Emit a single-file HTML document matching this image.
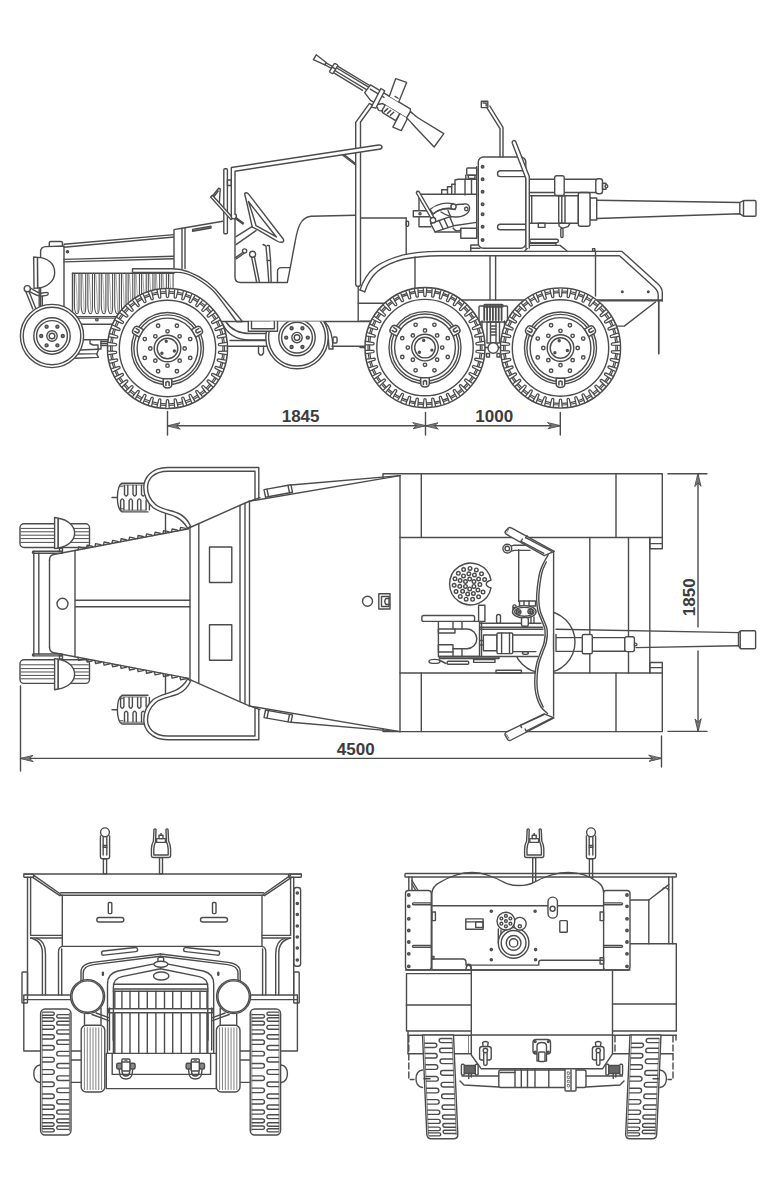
<!DOCTYPE html>
<html><head><meta charset="utf-8"><title>Blueprint</title>
<style>
html,body{margin:0;padding:0;background:#fff;}
svg{display:block}
.t{font-family:"Liberation Sans",sans-serif;font-weight:bold;fill:#3c3c3c;stroke:none}
</style></head><body>
<svg width="768" height="1199" viewBox="0 0 768 1199">
<rect x="0" y="0" width="768" height="1199" fill="#fff"/>
<g fill="none" stroke="#4c4c4c" stroke-width="1.4" stroke-linecap="round" stroke-linejoin="round">
<line x1="72.50" y1="316.80" x2="125.00" y2="316.80" stroke-width="1.6"/>
<line x1="72.50" y1="318.40" x2="125.00" y2="318.40" stroke-width="0.8"/>
<circle cx="96.90" cy="319.70" r="1.20" fill="#fff"/>
<line x1="78.00" y1="324.20" x2="118.00" y2="324.20"/>
<line x1="80.00" y1="339.70" x2="110.00" y2="339.70"/>
<polyline points="90.00,340.00 90.00,343.50 93.00,345.00 98.00,345.00 98.00,349.00 101.00,349.00 101.00,341.00"/>
<line x1="101.00" y1="341.50" x2="108.00" y2="341.50"/>
<line x1="101.00" y1="343.50" x2="108.00" y2="343.50"/>
<line x1="101.00" y1="345.50" x2="108.00" y2="345.50"/>
<polyline points="80.00,350.00 98.00,349.30"/>
<polyline points="77.00,354.00 97.00,353.60 98.50,349.50"/>
<polyline points="75.00,358.20 98.50,357.40 96.50,353.80"/>
<line x1="222.00" y1="321.50" x2="375.00" y2="321.50"/>
<line x1="225.00" y1="346.30" x2="268.00" y2="346.30"/>
<line x1="332.00" y1="346.30" x2="366.00" y2="346.30"/>
<path d="M222.5,323.5 C228,336 238,340 250,340 L268,340"/>
<path d="M226,322 C232,331 240,333.5 250,333.5 L270,333.5"/>
<polyline points="258.50,346.30 258.50,353.00 260.00,355.00 262.00,355.00 263.50,353.00 263.50,346.30"/>
<line x1="230.00" y1="340.50" x2="268.00" y2="340.50"/>
<path d="M321,322 C327,328 329,338 329,349 L333,349 C333,338 331,328 325,322"/>
<rect x="333.00" y="337.00" width="4.00" height="6.00" rx="1"/>
<line x1="360.00" y1="321.30" x2="372.00" y2="321.30"/>
<line x1="360.00" y1="347.50" x2="366.00" y2="347.50"/>
<line x1="462.00" y1="300.00" x2="662.00" y2="300.00"/>
<path d="M40.6,307 L40.6,251.5 Q40.6,246.8 46,246.6 L64,246 L64,316" fill="#fff"/>
<path d="M49.3,246.4 L49.3,242.8 Q49.3,241.5 50.6,241.5 L61,241.5 Q62.4,241.5 62.4,242.8 L62.4,246"/>
<path d="M37.4,257.4 C48,257.6 54.7,264 54.7,272.4 C54.7,281 47,287.6 37.6,288 Z" fill="#fff"/>
<path d="M33.7,257 L37.4,257.4 L37.6,288 L34,288.4 Z" fill="#fff"/>
<path d="M26,292 L32.8,309 M29,291.5 L35.6,308"/>
<path d="M29.5,287.5 C34,290 38,293 41,293.2 L46.6,292.4 Q48.4,292.4 48.2,294 Q48,295.4 46.6,295.4 L41,296.2 C37,296.2 32,293 28.5,291"/>
<circle cx="27.30" cy="288.70" r="3.10" fill="#fff"/>
<line x1="39.20" y1="288.50" x2="39.20" y2="306.00"/>
<line x1="42.30" y1="296.20" x2="42.30" y2="305.50"/>
<line x1="64.00" y1="244.30" x2="174.00" y2="234.60"/>
<line x1="64.00" y1="247.20" x2="174.00" y2="237.00"/>
<line x1="64.00" y1="259.40" x2="174.00" y2="256.30"/>
<line x1="64.00" y1="261.90" x2="174.00" y2="258.80"/>
<circle cx="67.50" cy="251.80" r="1.10" fill="#777"/>
<line x1="72.50" y1="273.30" x2="174.00" y2="273.30"/>
<line x1="72.50" y1="273.30" x2="72.50" y2="316.80"/>
<path d="M74.40,273.5 L74.40,305 Q74.60,313.8 77.20,313.8 Q79.00,313.8 79.00,307 L79.00,273.5" stroke-width="1.05"/>
<path d="M75.70,274.5 Q77.00,295 77.40,312" stroke-width="0.5"/>
<path d="M81.12,273.5 L81.12,305 Q81.32,313.8 83.92,313.8 Q85.72,313.8 85.72,307 L85.72,273.5" stroke-width="1.05"/>
<path d="M82.42,274.5 Q83.72,295 84.12,312" stroke-width="0.5"/>
<path d="M87.84,273.5 L87.84,305 Q88.04,313.8 90.64,313.8 Q92.44,313.8 92.44,307 L92.44,273.5" stroke-width="1.05"/>
<path d="M89.14,274.5 Q90.44,295 90.84,312" stroke-width="0.5"/>
<path d="M94.56,273.5 L94.56,305 Q94.76,313.8 97.36,313.8 Q99.16,313.8 99.16,307 L99.16,273.5" stroke-width="1.05"/>
<path d="M95.86,274.5 Q97.16,295 97.56,312" stroke-width="0.5"/>
<path d="M101.28,273.5 L101.28,305 Q101.48,313.8 104.08,313.8 Q105.88,313.8 105.88,307 L105.88,273.5" stroke-width="1.05"/>
<path d="M102.58,274.5 Q103.88,295 104.28,312" stroke-width="0.5"/>
<path d="M108.00,273.5 L108.00,305 Q108.20,313.8 110.80,313.8 Q112.60,313.8 112.60,307 L112.60,273.5" stroke-width="1.05"/>
<path d="M109.30,274.5 Q110.60,295 111.00,312" stroke-width="0.5"/>
<path d="M114.72,273.5 L114.72,305 Q114.92,313.8 117.52,313.8 Q119.32,313.8 119.32,307 L119.32,273.5" stroke-width="1.05"/>
<path d="M116.02,274.5 Q117.32,295 117.72,312" stroke-width="0.5"/>
<path d="M121.44,273.5 L121.44,305 Q121.64,313.8 124.24,313.8 Q126.04,313.8 126.04,307 L126.04,273.5" stroke-width="1.05"/>
<path d="M122.74,274.5 Q124.04,295 124.44,312" stroke-width="0.5"/>
<path d="M128.16,273.5 L128.16,305 Q128.36,313.8 130.96,313.8 Q132.76,313.8 132.76,307 L132.76,273.5" stroke-width="1.05"/>
<path d="M129.46,274.5 Q130.76,295 131.16,312" stroke-width="0.5"/>
<path d="M134.88,273.5 L134.88,305 Q135.08,313.8 137.68,313.8 Q139.48,313.8 139.48,307 L139.48,273.5" stroke-width="1.05"/>
<path d="M136.18,274.5 Q137.48,295 137.88,312" stroke-width="0.5"/>
<path d="M141.60,273.5 L141.60,305 Q141.80,313.8 144.40,313.8 Q146.20,313.8 146.20,307 L146.20,273.5" stroke-width="1.05"/>
<path d="M142.90,274.5 Q144.20,295 144.60,312" stroke-width="0.5"/>
<path d="M148.32,273.5 L148.32,305 Q148.52,313.8 151.12,313.8 Q152.92,313.8 152.92,307 L152.92,273.5" stroke-width="1.05"/>
<path d="M149.62,274.5 Q150.92,295 151.32,312" stroke-width="0.5"/>
<path d="M155.04,273.5 L155.04,305 Q155.24,313.8 157.84,313.8 Q159.64,313.8 159.64,307 L159.64,273.5" stroke-width="1.05"/>
<path d="M156.34,274.5 Q157.64,295 158.04,312" stroke-width="0.5"/>
<path d="M161.76,273.5 L161.76,305 Q161.96,313.8 164.56,313.8 Q166.36,313.8 166.36,307 L166.36,273.5" stroke-width="1.05"/>
<path d="M163.06,274.5 Q164.36,295 164.76,312" stroke-width="0.5"/>
<path d="M168.48,273.5 L168.48,305 Q168.68,313.8 171.28,313.8 Q173.08,313.8 173.08,307 L173.08,273.5" stroke-width="1.05"/>
<path d="M169.78,274.5 Q171.08,295 171.48,312" stroke-width="0.5"/>
<polyline points="174.00,268.50 174.00,229.60 182.00,228.20 182.00,268.50" fill="#fff"/>
<line x1="185.00" y1="227.80" x2="185.00" y2="268.50"/>
<line x1="182.00" y1="228.30" x2="222.80" y2="221.20"/>
<polygon points="192.60,231.20 211.00,228.00 211.00,226.20 192.60,229.40" fill="#999"/>
<path d="M235,219 L235,277 Q235,282.5 240.5,282.5 L287.3,282.5 C290,270 292.5,255 295,242.5 C297.5,228 300.5,217.2 311,216.3 L355.5,215.2"/>
<path d="M277.5,282.5 L277.5,271.5 Q277.5,267.6 281.5,267.6 L290.5,267.6"/>
<line x1="360.50" y1="218.00" x2="406.20" y2="218.00"/>
<line x1="406.20" y1="218.00" x2="406.20" y2="254.30"/>
<rect x="406.20" y="221.30" width="2.40" height="5.00" rx="1"/>
<rect x="223.80" y="168.80" width="3.60" height="65.00" rx="1" fill="#fff"/>
<rect x="227.40" y="180.00" width="3.90" height="5.50"/>
<polyline points="211.40,197.50 218.60,188.20 220.20,188.60 219.20,206.00"/>
<polyline points="213.60,197.00 218.20,191.00"/>
<polygon points="210.60,197.00 231.00,219.60 233.00,218.00 212.40,195.20" fill="#fff"/>
<circle cx="233.80" cy="216.30" r="2.60" fill="#fff"/>
<polygon points="236.00,217.60 243.50,223.00 242.80,224.00 235.40,218.80" fill="#999"/>
<path d="M244.9,195 Q244.2,192.6 246.4,192.8 Q248,193 249,194.6 L283.4,239.2 Q284.4,241.6 282,242.2 Q279.5,242.6 277,241 C270,237 262,232 255.5,228.6 L252.3,227.2 C250.5,220 248,207 244.9,195 Z" fill="#fff"/>
<path d="M248.4,201.5 L276.4,237 C268,232 261,228.5 256,225.6 C253.8,218 251,209 248.4,201.5 Z"/>
<polyline points="252.00,226.60 236.00,236.60"/>
<polyline points="256.00,230.60 236.00,244.60"/>
<circle cx="244.60" cy="251.00" r="2.10" fill="#fff"/>
<polyline points="243.00,252.30 235.50,257.60"/>
<polyline points="244.20,253.20 236.50,258.80"/>
<circle cx="252.60" cy="254.30" r="3.00" fill="#fff"/>
<polyline points="251.60,257.20 256.60,282.00"/>
<polyline points="254.40,256.80 259.40,282.00"/>
<polyline points="263.00,244.50 266.00,246.00 267.20,260.00 268.80,282.00"/>
<polyline points="267.50,245.50 269.30,245.50 270.50,260.00 271.20,282.00"/>
<line x1="267.20" y1="260.50" x2="270.50" y2="260.50"/>
<path d="M355.7,284 L355.7,122.4 L369.4,103.4 L372.6,105.4 L360.5,122 L360.5,284 Q360.5,286.4 358.1,286.4 Q355.7,286.4 355.7,284 Z" fill="#fff"/>
<polyline points="342.50,155.00 355.50,165.00"/>
<polyline points="344.00,154.60 355.50,163.60"/>
<path d="M231.3,216 L231.3,167.5 L378.5,145.0 Q381.8,144.8 382,146.9 Q382,149 379,149.2 L235,171.2 L235,214" fill="#fff"/>
<line x1="358.20" y1="286.40" x2="358.20" y2="321.50"/>
<line x1="358.20" y1="303.20" x2="388.00" y2="303.20"/>
<path d="M360,290 C363,281 368,273 374,268 C382,261.5 392,258 402.4,255.1 C412,252.8 424,251.6 440,251.4 L622,251.4 L657.5,283.5 Q662.3,287.6 662.3,293 L662.3,301" fill="none"/>
<path d="M364.8,291.8 C367.5,283.5 372,276 378,271 C385,265.5 394,261.5 404,259 C414,257 426,255.8 440,255.7 L619.5,255.7 L654,287 Q658.2,291 658.2,295 L658.2,301"/>
<line x1="360.00" y1="290.00" x2="364.80" y2="291.80"/>
<line x1="415.00" y1="257.00" x2="415.00" y2="290.00"/>
<line x1="490.00" y1="255.60" x2="490.00" y2="300.00"/>
<line x1="495.60" y1="255.60" x2="495.60" y2="300.00"/>
<line x1="595.50" y1="251.30" x2="595.50" y2="296.00"/>
<rect x="592.60" y="248.60" width="2.20" height="2.70"/>
<circle cx="622.30" cy="291.80" r="0.80" fill="#666"/>
<circle cx="648.30" cy="291.80" r="0.80" fill="#666"/>
<line x1="600.00" y1="300.80" x2="662.30" y2="300.80"/>
<polyline points="655.50,302.00 624.30,326.10 617.00,326.10"/>
<line x1="658.80" y1="301.00" x2="658.80" y2="353.60" stroke-width="1.7"/>
<rect x="479.00" y="306.00" width="28.50" height="16.00" rx="1"/>
<line x1="484.20" y1="306.00" x2="484.20" y2="320.00" stroke-width="1.8"/>
<line x1="487.10" y1="306.00" x2="487.10" y2="320.00" stroke-width="1.8"/>
<line x1="490.00" y1="306.00" x2="490.00" y2="320.00" stroke-width="1.8"/>
<line x1="492.90" y1="306.00" x2="492.90" y2="320.00" stroke-width="1.8"/>
<line x1="495.80" y1="306.00" x2="495.80" y2="320.00" stroke-width="1.8"/>
<line x1="498.70" y1="306.00" x2="498.70" y2="320.00" stroke-width="1.8"/>
<line x1="501.60" y1="306.00" x2="501.60" y2="320.00" stroke-width="1.8"/>
<rect x="484.00" y="304.50" width="19.00" height="2.50" rx="1"/>
<rect x="487.00" y="322.00" width="12.50" height="21.00"/>
<line x1="490.50" y1="322.00" x2="490.50" y2="343.00"/>
<line x1="496.00" y1="322.00" x2="496.00" y2="343.00"/>
<line x1="490.50" y1="326.00" x2="496.00" y2="326.00"/>
<line x1="490.50" y1="329.00" x2="496.00" y2="329.00"/>
<line x1="490.50" y1="332.00" x2="496.00" y2="332.00"/>
<line x1="490.50" y1="335.00" x2="496.00" y2="335.00"/>
<circle cx="493.20" cy="348.00" r="5.20" fill="#fff"/>
<rect x="486.50" y="353.50" width="3.00" height="3.50"/>
<rect x="497.00" y="353.50" width="3.00" height="3.50"/>
<line x1="482.00" y1="321.00" x2="482.00" y2="352.00"/>
<line x1="504.50" y1="321.00" x2="504.50" y2="352.00"/>
<line x1="470.00" y1="347.50" x2="488.00" y2="347.50"/>
<line x1="498.40" y1="347.50" x2="515.00" y2="347.50"/>
<circle cx="52.00" cy="336.00" r="31.60" fill="#fff"/>
<circle cx="52.00" cy="336.00" r="28.80"/>
<circle cx="52.00" cy="336.00" r="18.20"/>
<circle cx="52.00" cy="336.00" r="15.40"/>
<circle cx="52.00" cy="336.00" r="5.20"/>
<circle cx="52.00" cy="336.00" r="2.80"/>
<circle cx="62.80" cy="336.00" r="1.50" fill="#888"/>
<circle cx="57.40" cy="345.35" r="1.50" fill="#888"/>
<circle cx="46.60" cy="345.35" r="1.50" fill="#888"/>
<circle cx="41.20" cy="336.00" r="1.50" fill="#888"/>
<circle cx="46.60" cy="326.65" r="1.50" fill="#888"/>
<circle cx="57.40" cy="326.65" r="1.50" fill="#888"/>
<clipPath id="cpw"><rect x="260" y="321.5" width="80" height="60"/></clipPath>
<g clip-path="url(#cpw)">
<circle cx="297.00" cy="337.60" r="31.20" fill="#fff"/>
<circle cx="297.00" cy="337.60" r="28.40"/>
<circle cx="297.00" cy="337.60" r="18.20"/>
<circle cx="297.00" cy="337.60" r="15.40"/>
<circle cx="297.00" cy="337.60" r="5.20"/>
<circle cx="297.00" cy="337.60" r="2.80"/>
<circle cx="307.80" cy="337.60" r="1.50" fill="#888"/>
<circle cx="302.40" cy="346.95" r="1.50" fill="#888"/>
<circle cx="291.60" cy="346.95" r="1.50" fill="#888"/>
<circle cx="286.20" cy="337.60" r="1.50" fill="#888"/>
<circle cx="291.60" cy="328.25" r="1.50" fill="#888"/>
<circle cx="302.40" cy="328.25" r="1.50" fill="#888"/>
</g>
<polyline points="248.30,321.50 248.30,331.20 277.50,331.20 277.50,321.50" fill="#fff"/>
<polyline points="251.50,321.50 251.50,328.80 274.40,328.80 274.40,321.50"/>
<circle cx="167.50" cy="348.50" r="60.00" fill="#fff" stroke-width="1.6"/>
<circle cx="167.50" cy="348.50" r="57.00" stroke-width="1.2"/>
<circle cx="167.50" cy="348.50" r="55.40" stroke-width="1.2"/>
<path d="M59.20,-1.7 L51.60,-1.05 Q50.40,0 51.60,1.05 L59.20,1.7" fill="#fff" stroke-width="1.25" transform="translate(167.50 348.50) rotate(4.29)"/>
<path d="M59.20,-1.7 L51.60,-1.05 Q50.40,0 51.60,1.05 L59.20,1.7" fill="#fff" stroke-width="1.25" transform="translate(167.50 348.50) rotate(12.86)"/>
<path d="M59.20,-1.7 L51.60,-1.05 Q50.40,0 51.60,1.05 L59.20,1.7" fill="#fff" stroke-width="1.25" transform="translate(167.50 348.50) rotate(21.43)"/>
<path d="M59.20,-1.7 L51.60,-1.05 Q50.40,0 51.60,1.05 L59.20,1.7" fill="#fff" stroke-width="1.25" transform="translate(167.50 348.50) rotate(30.00)"/>
<path d="M59.20,-1.7 L51.60,-1.05 Q50.40,0 51.60,1.05 L59.20,1.7" fill="#fff" stroke-width="1.25" transform="translate(167.50 348.50) rotate(38.57)"/>
<path d="M59.20,-1.7 L51.60,-1.05 Q50.40,0 51.60,1.05 L59.20,1.7" fill="#fff" stroke-width="1.25" transform="translate(167.50 348.50) rotate(47.14)"/>
<path d="M59.20,-1.7 L51.60,-1.05 Q50.40,0 51.60,1.05 L59.20,1.7" fill="#fff" stroke-width="1.25" transform="translate(167.50 348.50) rotate(55.71)"/>
<path d="M59.20,-1.7 L51.60,-1.05 Q50.40,0 51.60,1.05 L59.20,1.7" fill="#fff" stroke-width="1.25" transform="translate(167.50 348.50) rotate(64.29)"/>
<path d="M59.20,-1.7 L51.60,-1.05 Q50.40,0 51.60,1.05 L59.20,1.7" fill="#fff" stroke-width="1.25" transform="translate(167.50 348.50) rotate(72.86)"/>
<path d="M59.20,-1.7 L51.60,-1.05 Q50.40,0 51.60,1.05 L59.20,1.7" fill="#fff" stroke-width="1.25" transform="translate(167.50 348.50) rotate(81.43)"/>
<path d="M59.20,-1.7 L51.60,-1.05 Q50.40,0 51.60,1.05 L59.20,1.7" fill="#fff" stroke-width="1.25" transform="translate(167.50 348.50) rotate(90.00)"/>
<path d="M59.20,-1.7 L51.60,-1.05 Q50.40,0 51.60,1.05 L59.20,1.7" fill="#fff" stroke-width="1.25" transform="translate(167.50 348.50) rotate(98.57)"/>
<path d="M59.20,-1.7 L51.60,-1.05 Q50.40,0 51.60,1.05 L59.20,1.7" fill="#fff" stroke-width="1.25" transform="translate(167.50 348.50) rotate(107.14)"/>
<path d="M59.20,-1.7 L51.60,-1.05 Q50.40,0 51.60,1.05 L59.20,1.7" fill="#fff" stroke-width="1.25" transform="translate(167.50 348.50) rotate(115.71)"/>
<path d="M59.20,-1.7 L51.60,-1.05 Q50.40,0 51.60,1.05 L59.20,1.7" fill="#fff" stroke-width="1.25" transform="translate(167.50 348.50) rotate(124.29)"/>
<path d="M59.20,-1.7 L51.60,-1.05 Q50.40,0 51.60,1.05 L59.20,1.7" fill="#fff" stroke-width="1.25" transform="translate(167.50 348.50) rotate(132.86)"/>
<path d="M59.20,-1.7 L51.60,-1.05 Q50.40,0 51.60,1.05 L59.20,1.7" fill="#fff" stroke-width="1.25" transform="translate(167.50 348.50) rotate(141.43)"/>
<path d="M59.20,-1.7 L51.60,-1.05 Q50.40,0 51.60,1.05 L59.20,1.7" fill="#fff" stroke-width="1.25" transform="translate(167.50 348.50) rotate(150.00)"/>
<path d="M59.20,-1.7 L51.60,-1.05 Q50.40,0 51.60,1.05 L59.20,1.7" fill="#fff" stroke-width="1.25" transform="translate(167.50 348.50) rotate(158.57)"/>
<path d="M59.20,-1.7 L51.60,-1.05 Q50.40,0 51.60,1.05 L59.20,1.7" fill="#fff" stroke-width="1.25" transform="translate(167.50 348.50) rotate(167.14)"/>
<path d="M59.20,-1.7 L51.60,-1.05 Q50.40,0 51.60,1.05 L59.20,1.7" fill="#fff" stroke-width="1.25" transform="translate(167.50 348.50) rotate(175.71)"/>
<path d="M59.20,-1.7 L51.60,-1.05 Q50.40,0 51.60,1.05 L59.20,1.7" fill="#fff" stroke-width="1.25" transform="translate(167.50 348.50) rotate(184.29)"/>
<path d="M59.20,-1.7 L51.60,-1.05 Q50.40,0 51.60,1.05 L59.20,1.7" fill="#fff" stroke-width="1.25" transform="translate(167.50 348.50) rotate(192.86)"/>
<path d="M59.20,-1.7 L51.60,-1.05 Q50.40,0 51.60,1.05 L59.20,1.7" fill="#fff" stroke-width="1.25" transform="translate(167.50 348.50) rotate(201.43)"/>
<path d="M59.20,-1.7 L51.60,-1.05 Q50.40,0 51.60,1.05 L59.20,1.7" fill="#fff" stroke-width="1.25" transform="translate(167.50 348.50) rotate(210.00)"/>
<path d="M59.20,-1.7 L51.60,-1.05 Q50.40,0 51.60,1.05 L59.20,1.7" fill="#fff" stroke-width="1.25" transform="translate(167.50 348.50) rotate(218.57)"/>
<path d="M59.20,-1.7 L51.60,-1.05 Q50.40,0 51.60,1.05 L59.20,1.7" fill="#fff" stroke-width="1.25" transform="translate(167.50 348.50) rotate(227.14)"/>
<path d="M59.20,-1.7 L51.60,-1.05 Q50.40,0 51.60,1.05 L59.20,1.7" fill="#fff" stroke-width="1.25" transform="translate(167.50 348.50) rotate(235.71)"/>
<path d="M59.20,-1.7 L51.60,-1.05 Q50.40,0 51.60,1.05 L59.20,1.7" fill="#fff" stroke-width="1.25" transform="translate(167.50 348.50) rotate(244.29)"/>
<path d="M59.20,-1.7 L51.60,-1.05 Q50.40,0 51.60,1.05 L59.20,1.7" fill="#fff" stroke-width="1.25" transform="translate(167.50 348.50) rotate(252.86)"/>
<path d="M59.20,-1.7 L51.60,-1.05 Q50.40,0 51.60,1.05 L59.20,1.7" fill="#fff" stroke-width="1.25" transform="translate(167.50 348.50) rotate(261.43)"/>
<path d="M59.20,-1.7 L51.60,-1.05 Q50.40,0 51.60,1.05 L59.20,1.7" fill="#fff" stroke-width="1.25" transform="translate(167.50 348.50) rotate(270.00)"/>
<path d="M59.20,-1.7 L51.60,-1.05 Q50.40,0 51.60,1.05 L59.20,1.7" fill="#fff" stroke-width="1.25" transform="translate(167.50 348.50) rotate(278.57)"/>
<path d="M59.20,-1.7 L51.60,-1.05 Q50.40,0 51.60,1.05 L59.20,1.7" fill="#fff" stroke-width="1.25" transform="translate(167.50 348.50) rotate(287.14)"/>
<path d="M59.20,-1.7 L51.60,-1.05 Q50.40,0 51.60,1.05 L59.20,1.7" fill="#fff" stroke-width="1.25" transform="translate(167.50 348.50) rotate(295.71)"/>
<path d="M59.20,-1.7 L51.60,-1.05 Q50.40,0 51.60,1.05 L59.20,1.7" fill="#fff" stroke-width="1.25" transform="translate(167.50 348.50) rotate(304.29)"/>
<path d="M59.20,-1.7 L51.60,-1.05 Q50.40,0 51.60,1.05 L59.20,1.7" fill="#fff" stroke-width="1.25" transform="translate(167.50 348.50) rotate(312.86)"/>
<path d="M59.20,-1.7 L51.60,-1.05 Q50.40,0 51.60,1.05 L59.20,1.7" fill="#fff" stroke-width="1.25" transform="translate(167.50 348.50) rotate(321.43)"/>
<path d="M59.20,-1.7 L51.60,-1.05 Q50.40,0 51.60,1.05 L59.20,1.7" fill="#fff" stroke-width="1.25" transform="translate(167.50 348.50) rotate(330.00)"/>
<path d="M59.20,-1.7 L51.60,-1.05 Q50.40,0 51.60,1.05 L59.20,1.7" fill="#fff" stroke-width="1.25" transform="translate(167.50 348.50) rotate(338.57)"/>
<path d="M59.20,-1.7 L51.60,-1.05 Q50.40,0 51.60,1.05 L59.20,1.7" fill="#fff" stroke-width="1.25" transform="translate(167.50 348.50) rotate(347.14)"/>
<path d="M59.20,-1.7 L51.60,-1.05 Q50.40,0 51.60,1.05 L59.20,1.7" fill="#fff" stroke-width="1.25" transform="translate(167.50 348.50) rotate(355.71)"/>
<circle cx="167.50" cy="348.50" r="48.20"/>
<circle cx="167.50" cy="348.50" r="36.00"/>
<circle cx="167.50" cy="348.50" r="33.60"/>
<circle cx="167.50" cy="348.50" r="30.40"/>
<circle cx="167.50" cy="348.50" r="13.30"/>
<circle cx="167.50" cy="348.50" r="10.30"/>
<circle cx="184.70" cy="348.50" r="1.70"/>
<circle cx="190.23" cy="357.91" r="1.70"/>
<circle cx="179.66" cy="360.66" r="1.70"/>
<circle cx="176.91" cy="371.23" r="1.70"/>
<circle cx="167.50" cy="365.70" r="1.70"/>
<circle cx="158.09" cy="371.23" r="1.70"/>
<circle cx="155.34" cy="360.66" r="1.70"/>
<circle cx="144.77" cy="357.91" r="1.70"/>
<circle cx="150.30" cy="348.50" r="1.70"/>
<circle cx="144.77" cy="339.09" r="1.70"/>
<circle cx="155.34" cy="336.34" r="1.70"/>
<circle cx="158.09" cy="325.77" r="1.70"/>
<circle cx="167.50" cy="331.30" r="1.70"/>
<circle cx="176.91" cy="325.77" r="1.70"/>
<circle cx="179.66" cy="336.34" r="1.70"/>
<circle cx="190.23" cy="339.09" r="1.70"/>
<circle cx="166.23" cy="341.31" r="1.00" fill="#777"/>
<circle cx="174.36" cy="351.00" r="1.00" fill="#777"/>
<circle cx="161.91" cy="353.19" r="1.00" fill="#777"/>
<g transform="translate(167.50 348.50) rotate(0)"><path d="M-4.3,30.2 L-4.3,36 Q-4.3,39.4 0,39.4 Q4.3,39.4 4.3,36 L4.3,30.2 Z" fill="#fff" stroke-width="1.5"/><path d="M-1.6,37 L-1.6,33.8 Q0,32.2 1.6,33.8 L1.6,37" stroke-width="1.5"/></g>
<g transform="translate(167.50 348.50) rotate(120)"><path d="M-4.3,30.2 L-4.3,36 Q-4.3,39.4 0,39.4 Q4.3,39.4 4.3,36 L4.3,30.2 Z" fill="#fff" stroke-width="1.5"/><path d="M-1.6,37 L-1.6,33.8 Q0,32.2 1.6,33.8 L1.6,37" stroke-width="1.5"/></g>
<g transform="translate(167.50 348.50) rotate(240)"><path d="M-4.3,30.2 L-4.3,36 Q-4.3,39.4 0,39.4 Q4.3,39.4 4.3,36 L4.3,30.2 Z" fill="#fff" stroke-width="1.5"/><path d="M-1.6,37 L-1.6,33.8 Q0,32.2 1.6,33.8 L1.6,37" stroke-width="1.5"/></g>
<circle cx="425.00" cy="347.60" r="60.00" fill="#fff" stroke-width="1.6"/>
<circle cx="425.00" cy="347.60" r="57.00" stroke-width="1.2"/>
<circle cx="425.00" cy="347.60" r="55.40" stroke-width="1.2"/>
<path d="M59.20,-1.7 L51.60,-1.05 Q50.40,0 51.60,1.05 L59.20,1.7" fill="#fff" stroke-width="1.25" transform="translate(425.00 347.60) rotate(4.29)"/>
<path d="M59.20,-1.7 L51.60,-1.05 Q50.40,0 51.60,1.05 L59.20,1.7" fill="#fff" stroke-width="1.25" transform="translate(425.00 347.60) rotate(12.86)"/>
<path d="M59.20,-1.7 L51.60,-1.05 Q50.40,0 51.60,1.05 L59.20,1.7" fill="#fff" stroke-width="1.25" transform="translate(425.00 347.60) rotate(21.43)"/>
<path d="M59.20,-1.7 L51.60,-1.05 Q50.40,0 51.60,1.05 L59.20,1.7" fill="#fff" stroke-width="1.25" transform="translate(425.00 347.60) rotate(30.00)"/>
<path d="M59.20,-1.7 L51.60,-1.05 Q50.40,0 51.60,1.05 L59.20,1.7" fill="#fff" stroke-width="1.25" transform="translate(425.00 347.60) rotate(38.57)"/>
<path d="M59.20,-1.7 L51.60,-1.05 Q50.40,0 51.60,1.05 L59.20,1.7" fill="#fff" stroke-width="1.25" transform="translate(425.00 347.60) rotate(47.14)"/>
<path d="M59.20,-1.7 L51.60,-1.05 Q50.40,0 51.60,1.05 L59.20,1.7" fill="#fff" stroke-width="1.25" transform="translate(425.00 347.60) rotate(55.71)"/>
<path d="M59.20,-1.7 L51.60,-1.05 Q50.40,0 51.60,1.05 L59.20,1.7" fill="#fff" stroke-width="1.25" transform="translate(425.00 347.60) rotate(64.29)"/>
<path d="M59.20,-1.7 L51.60,-1.05 Q50.40,0 51.60,1.05 L59.20,1.7" fill="#fff" stroke-width="1.25" transform="translate(425.00 347.60) rotate(72.86)"/>
<path d="M59.20,-1.7 L51.60,-1.05 Q50.40,0 51.60,1.05 L59.20,1.7" fill="#fff" stroke-width="1.25" transform="translate(425.00 347.60) rotate(81.43)"/>
<path d="M59.20,-1.7 L51.60,-1.05 Q50.40,0 51.60,1.05 L59.20,1.7" fill="#fff" stroke-width="1.25" transform="translate(425.00 347.60) rotate(90.00)"/>
<path d="M59.20,-1.7 L51.60,-1.05 Q50.40,0 51.60,1.05 L59.20,1.7" fill="#fff" stroke-width="1.25" transform="translate(425.00 347.60) rotate(98.57)"/>
<path d="M59.20,-1.7 L51.60,-1.05 Q50.40,0 51.60,1.05 L59.20,1.7" fill="#fff" stroke-width="1.25" transform="translate(425.00 347.60) rotate(107.14)"/>
<path d="M59.20,-1.7 L51.60,-1.05 Q50.40,0 51.60,1.05 L59.20,1.7" fill="#fff" stroke-width="1.25" transform="translate(425.00 347.60) rotate(115.71)"/>
<path d="M59.20,-1.7 L51.60,-1.05 Q50.40,0 51.60,1.05 L59.20,1.7" fill="#fff" stroke-width="1.25" transform="translate(425.00 347.60) rotate(124.29)"/>
<path d="M59.20,-1.7 L51.60,-1.05 Q50.40,0 51.60,1.05 L59.20,1.7" fill="#fff" stroke-width="1.25" transform="translate(425.00 347.60) rotate(132.86)"/>
<path d="M59.20,-1.7 L51.60,-1.05 Q50.40,0 51.60,1.05 L59.20,1.7" fill="#fff" stroke-width="1.25" transform="translate(425.00 347.60) rotate(141.43)"/>
<path d="M59.20,-1.7 L51.60,-1.05 Q50.40,0 51.60,1.05 L59.20,1.7" fill="#fff" stroke-width="1.25" transform="translate(425.00 347.60) rotate(150.00)"/>
<path d="M59.20,-1.7 L51.60,-1.05 Q50.40,0 51.60,1.05 L59.20,1.7" fill="#fff" stroke-width="1.25" transform="translate(425.00 347.60) rotate(158.57)"/>
<path d="M59.20,-1.7 L51.60,-1.05 Q50.40,0 51.60,1.05 L59.20,1.7" fill="#fff" stroke-width="1.25" transform="translate(425.00 347.60) rotate(167.14)"/>
<path d="M59.20,-1.7 L51.60,-1.05 Q50.40,0 51.60,1.05 L59.20,1.7" fill="#fff" stroke-width="1.25" transform="translate(425.00 347.60) rotate(175.71)"/>
<path d="M59.20,-1.7 L51.60,-1.05 Q50.40,0 51.60,1.05 L59.20,1.7" fill="#fff" stroke-width="1.25" transform="translate(425.00 347.60) rotate(184.29)"/>
<path d="M59.20,-1.7 L51.60,-1.05 Q50.40,0 51.60,1.05 L59.20,1.7" fill="#fff" stroke-width="1.25" transform="translate(425.00 347.60) rotate(192.86)"/>
<path d="M59.20,-1.7 L51.60,-1.05 Q50.40,0 51.60,1.05 L59.20,1.7" fill="#fff" stroke-width="1.25" transform="translate(425.00 347.60) rotate(201.43)"/>
<path d="M59.20,-1.7 L51.60,-1.05 Q50.40,0 51.60,1.05 L59.20,1.7" fill="#fff" stroke-width="1.25" transform="translate(425.00 347.60) rotate(210.00)"/>
<path d="M59.20,-1.7 L51.60,-1.05 Q50.40,0 51.60,1.05 L59.20,1.7" fill="#fff" stroke-width="1.25" transform="translate(425.00 347.60) rotate(218.57)"/>
<path d="M59.20,-1.7 L51.60,-1.05 Q50.40,0 51.60,1.05 L59.20,1.7" fill="#fff" stroke-width="1.25" transform="translate(425.00 347.60) rotate(227.14)"/>
<path d="M59.20,-1.7 L51.60,-1.05 Q50.40,0 51.60,1.05 L59.20,1.7" fill="#fff" stroke-width="1.25" transform="translate(425.00 347.60) rotate(235.71)"/>
<path d="M59.20,-1.7 L51.60,-1.05 Q50.40,0 51.60,1.05 L59.20,1.7" fill="#fff" stroke-width="1.25" transform="translate(425.00 347.60) rotate(244.29)"/>
<path d="M59.20,-1.7 L51.60,-1.05 Q50.40,0 51.60,1.05 L59.20,1.7" fill="#fff" stroke-width="1.25" transform="translate(425.00 347.60) rotate(252.86)"/>
<path d="M59.20,-1.7 L51.60,-1.05 Q50.40,0 51.60,1.05 L59.20,1.7" fill="#fff" stroke-width="1.25" transform="translate(425.00 347.60) rotate(261.43)"/>
<path d="M59.20,-1.7 L51.60,-1.05 Q50.40,0 51.60,1.05 L59.20,1.7" fill="#fff" stroke-width="1.25" transform="translate(425.00 347.60) rotate(270.00)"/>
<path d="M59.20,-1.7 L51.60,-1.05 Q50.40,0 51.60,1.05 L59.20,1.7" fill="#fff" stroke-width="1.25" transform="translate(425.00 347.60) rotate(278.57)"/>
<path d="M59.20,-1.7 L51.60,-1.05 Q50.40,0 51.60,1.05 L59.20,1.7" fill="#fff" stroke-width="1.25" transform="translate(425.00 347.60) rotate(287.14)"/>
<path d="M59.20,-1.7 L51.60,-1.05 Q50.40,0 51.60,1.05 L59.20,1.7" fill="#fff" stroke-width="1.25" transform="translate(425.00 347.60) rotate(295.71)"/>
<path d="M59.20,-1.7 L51.60,-1.05 Q50.40,0 51.60,1.05 L59.20,1.7" fill="#fff" stroke-width="1.25" transform="translate(425.00 347.60) rotate(304.29)"/>
<path d="M59.20,-1.7 L51.60,-1.05 Q50.40,0 51.60,1.05 L59.20,1.7" fill="#fff" stroke-width="1.25" transform="translate(425.00 347.60) rotate(312.86)"/>
<path d="M59.20,-1.7 L51.60,-1.05 Q50.40,0 51.60,1.05 L59.20,1.7" fill="#fff" stroke-width="1.25" transform="translate(425.00 347.60) rotate(321.43)"/>
<path d="M59.20,-1.7 L51.60,-1.05 Q50.40,0 51.60,1.05 L59.20,1.7" fill="#fff" stroke-width="1.25" transform="translate(425.00 347.60) rotate(330.00)"/>
<path d="M59.20,-1.7 L51.60,-1.05 Q50.40,0 51.60,1.05 L59.20,1.7" fill="#fff" stroke-width="1.25" transform="translate(425.00 347.60) rotate(338.57)"/>
<path d="M59.20,-1.7 L51.60,-1.05 Q50.40,0 51.60,1.05 L59.20,1.7" fill="#fff" stroke-width="1.25" transform="translate(425.00 347.60) rotate(347.14)"/>
<path d="M59.20,-1.7 L51.60,-1.05 Q50.40,0 51.60,1.05 L59.20,1.7" fill="#fff" stroke-width="1.25" transform="translate(425.00 347.60) rotate(355.71)"/>
<circle cx="425.00" cy="347.60" r="48.20"/>
<circle cx="425.00" cy="347.60" r="36.00"/>
<circle cx="425.00" cy="347.60" r="33.60"/>
<circle cx="425.00" cy="347.60" r="30.40"/>
<circle cx="425.00" cy="347.60" r="13.30"/>
<circle cx="425.00" cy="347.60" r="10.30"/>
<circle cx="442.20" cy="347.60" r="1.70"/>
<circle cx="447.73" cy="357.01" r="1.70"/>
<circle cx="437.16" cy="359.76" r="1.70"/>
<circle cx="434.41" cy="370.33" r="1.70"/>
<circle cx="425.00" cy="364.80" r="1.70"/>
<circle cx="415.59" cy="370.33" r="1.70"/>
<circle cx="412.84" cy="359.76" r="1.70"/>
<circle cx="402.27" cy="357.01" r="1.70"/>
<circle cx="407.80" cy="347.60" r="1.70"/>
<circle cx="402.27" cy="338.19" r="1.70"/>
<circle cx="412.84" cy="335.44" r="1.70"/>
<circle cx="415.59" cy="324.87" r="1.70"/>
<circle cx="425.00" cy="330.40" r="1.70"/>
<circle cx="434.41" cy="324.87" r="1.70"/>
<circle cx="437.16" cy="335.44" r="1.70"/>
<circle cx="447.73" cy="338.19" r="1.70"/>
<circle cx="423.73" cy="340.41" r="1.00" fill="#777"/>
<circle cx="431.86" cy="350.10" r="1.00" fill="#777"/>
<circle cx="419.41" cy="352.29" r="1.00" fill="#777"/>
<g transform="translate(425.00 347.60) rotate(0)"><path d="M-4.3,30.2 L-4.3,36 Q-4.3,39.4 0,39.4 Q4.3,39.4 4.3,36 L4.3,30.2 Z" fill="#fff" stroke-width="1.5"/><path d="M-1.6,37 L-1.6,33.8 Q0,32.2 1.6,33.8 L1.6,37" stroke-width="1.5"/></g>
<g transform="translate(425.00 347.60) rotate(120)"><path d="M-4.3,30.2 L-4.3,36 Q-4.3,39.4 0,39.4 Q4.3,39.4 4.3,36 L4.3,30.2 Z" fill="#fff" stroke-width="1.5"/><path d="M-1.6,37 L-1.6,33.8 Q0,32.2 1.6,33.8 L1.6,37" stroke-width="1.5"/></g>
<g transform="translate(425.00 347.60) rotate(240)"><path d="M-4.3,30.2 L-4.3,36 Q-4.3,39.4 0,39.4 Q4.3,39.4 4.3,36 L4.3,30.2 Z" fill="#fff" stroke-width="1.5"/><path d="M-1.6,37 L-1.6,33.8 Q0,32.2 1.6,33.8 L1.6,37" stroke-width="1.5"/></g>
<circle cx="560.50" cy="348.00" r="60.00" fill="#fff" stroke-width="1.6"/>
<circle cx="560.50" cy="348.00" r="57.00" stroke-width="1.2"/>
<circle cx="560.50" cy="348.00" r="55.40" stroke-width="1.2"/>
<path d="M59.20,-1.7 L51.60,-1.05 Q50.40,0 51.60,1.05 L59.20,1.7" fill="#fff" stroke-width="1.25" transform="translate(560.50 348.00) rotate(4.29)"/>
<path d="M59.20,-1.7 L51.60,-1.05 Q50.40,0 51.60,1.05 L59.20,1.7" fill="#fff" stroke-width="1.25" transform="translate(560.50 348.00) rotate(12.86)"/>
<path d="M59.20,-1.7 L51.60,-1.05 Q50.40,0 51.60,1.05 L59.20,1.7" fill="#fff" stroke-width="1.25" transform="translate(560.50 348.00) rotate(21.43)"/>
<path d="M59.20,-1.7 L51.60,-1.05 Q50.40,0 51.60,1.05 L59.20,1.7" fill="#fff" stroke-width="1.25" transform="translate(560.50 348.00) rotate(30.00)"/>
<path d="M59.20,-1.7 L51.60,-1.05 Q50.40,0 51.60,1.05 L59.20,1.7" fill="#fff" stroke-width="1.25" transform="translate(560.50 348.00) rotate(38.57)"/>
<path d="M59.20,-1.7 L51.60,-1.05 Q50.40,0 51.60,1.05 L59.20,1.7" fill="#fff" stroke-width="1.25" transform="translate(560.50 348.00) rotate(47.14)"/>
<path d="M59.20,-1.7 L51.60,-1.05 Q50.40,0 51.60,1.05 L59.20,1.7" fill="#fff" stroke-width="1.25" transform="translate(560.50 348.00) rotate(55.71)"/>
<path d="M59.20,-1.7 L51.60,-1.05 Q50.40,0 51.60,1.05 L59.20,1.7" fill="#fff" stroke-width="1.25" transform="translate(560.50 348.00) rotate(64.29)"/>
<path d="M59.20,-1.7 L51.60,-1.05 Q50.40,0 51.60,1.05 L59.20,1.7" fill="#fff" stroke-width="1.25" transform="translate(560.50 348.00) rotate(72.86)"/>
<path d="M59.20,-1.7 L51.60,-1.05 Q50.40,0 51.60,1.05 L59.20,1.7" fill="#fff" stroke-width="1.25" transform="translate(560.50 348.00) rotate(81.43)"/>
<path d="M59.20,-1.7 L51.60,-1.05 Q50.40,0 51.60,1.05 L59.20,1.7" fill="#fff" stroke-width="1.25" transform="translate(560.50 348.00) rotate(90.00)"/>
<path d="M59.20,-1.7 L51.60,-1.05 Q50.40,0 51.60,1.05 L59.20,1.7" fill="#fff" stroke-width="1.25" transform="translate(560.50 348.00) rotate(98.57)"/>
<path d="M59.20,-1.7 L51.60,-1.05 Q50.40,0 51.60,1.05 L59.20,1.7" fill="#fff" stroke-width="1.25" transform="translate(560.50 348.00) rotate(107.14)"/>
<path d="M59.20,-1.7 L51.60,-1.05 Q50.40,0 51.60,1.05 L59.20,1.7" fill="#fff" stroke-width="1.25" transform="translate(560.50 348.00) rotate(115.71)"/>
<path d="M59.20,-1.7 L51.60,-1.05 Q50.40,0 51.60,1.05 L59.20,1.7" fill="#fff" stroke-width="1.25" transform="translate(560.50 348.00) rotate(124.29)"/>
<path d="M59.20,-1.7 L51.60,-1.05 Q50.40,0 51.60,1.05 L59.20,1.7" fill="#fff" stroke-width="1.25" transform="translate(560.50 348.00) rotate(132.86)"/>
<path d="M59.20,-1.7 L51.60,-1.05 Q50.40,0 51.60,1.05 L59.20,1.7" fill="#fff" stroke-width="1.25" transform="translate(560.50 348.00) rotate(141.43)"/>
<path d="M59.20,-1.7 L51.60,-1.05 Q50.40,0 51.60,1.05 L59.20,1.7" fill="#fff" stroke-width="1.25" transform="translate(560.50 348.00) rotate(150.00)"/>
<path d="M59.20,-1.7 L51.60,-1.05 Q50.40,0 51.60,1.05 L59.20,1.7" fill="#fff" stroke-width="1.25" transform="translate(560.50 348.00) rotate(158.57)"/>
<path d="M59.20,-1.7 L51.60,-1.05 Q50.40,0 51.60,1.05 L59.20,1.7" fill="#fff" stroke-width="1.25" transform="translate(560.50 348.00) rotate(167.14)"/>
<path d="M59.20,-1.7 L51.60,-1.05 Q50.40,0 51.60,1.05 L59.20,1.7" fill="#fff" stroke-width="1.25" transform="translate(560.50 348.00) rotate(175.71)"/>
<path d="M59.20,-1.7 L51.60,-1.05 Q50.40,0 51.60,1.05 L59.20,1.7" fill="#fff" stroke-width="1.25" transform="translate(560.50 348.00) rotate(184.29)"/>
<path d="M59.20,-1.7 L51.60,-1.05 Q50.40,0 51.60,1.05 L59.20,1.7" fill="#fff" stroke-width="1.25" transform="translate(560.50 348.00) rotate(192.86)"/>
<path d="M59.20,-1.7 L51.60,-1.05 Q50.40,0 51.60,1.05 L59.20,1.7" fill="#fff" stroke-width="1.25" transform="translate(560.50 348.00) rotate(201.43)"/>
<path d="M59.20,-1.7 L51.60,-1.05 Q50.40,0 51.60,1.05 L59.20,1.7" fill="#fff" stroke-width="1.25" transform="translate(560.50 348.00) rotate(210.00)"/>
<path d="M59.20,-1.7 L51.60,-1.05 Q50.40,0 51.60,1.05 L59.20,1.7" fill="#fff" stroke-width="1.25" transform="translate(560.50 348.00) rotate(218.57)"/>
<path d="M59.20,-1.7 L51.60,-1.05 Q50.40,0 51.60,1.05 L59.20,1.7" fill="#fff" stroke-width="1.25" transform="translate(560.50 348.00) rotate(227.14)"/>
<path d="M59.20,-1.7 L51.60,-1.05 Q50.40,0 51.60,1.05 L59.20,1.7" fill="#fff" stroke-width="1.25" transform="translate(560.50 348.00) rotate(235.71)"/>
<path d="M59.20,-1.7 L51.60,-1.05 Q50.40,0 51.60,1.05 L59.20,1.7" fill="#fff" stroke-width="1.25" transform="translate(560.50 348.00) rotate(244.29)"/>
<path d="M59.20,-1.7 L51.60,-1.05 Q50.40,0 51.60,1.05 L59.20,1.7" fill="#fff" stroke-width="1.25" transform="translate(560.50 348.00) rotate(252.86)"/>
<path d="M59.20,-1.7 L51.60,-1.05 Q50.40,0 51.60,1.05 L59.20,1.7" fill="#fff" stroke-width="1.25" transform="translate(560.50 348.00) rotate(261.43)"/>
<path d="M59.20,-1.7 L51.60,-1.05 Q50.40,0 51.60,1.05 L59.20,1.7" fill="#fff" stroke-width="1.25" transform="translate(560.50 348.00) rotate(270.00)"/>
<path d="M59.20,-1.7 L51.60,-1.05 Q50.40,0 51.60,1.05 L59.20,1.7" fill="#fff" stroke-width="1.25" transform="translate(560.50 348.00) rotate(278.57)"/>
<path d="M59.20,-1.7 L51.60,-1.05 Q50.40,0 51.60,1.05 L59.20,1.7" fill="#fff" stroke-width="1.25" transform="translate(560.50 348.00) rotate(287.14)"/>
<path d="M59.20,-1.7 L51.60,-1.05 Q50.40,0 51.60,1.05 L59.20,1.7" fill="#fff" stroke-width="1.25" transform="translate(560.50 348.00) rotate(295.71)"/>
<path d="M59.20,-1.7 L51.60,-1.05 Q50.40,0 51.60,1.05 L59.20,1.7" fill="#fff" stroke-width="1.25" transform="translate(560.50 348.00) rotate(304.29)"/>
<path d="M59.20,-1.7 L51.60,-1.05 Q50.40,0 51.60,1.05 L59.20,1.7" fill="#fff" stroke-width="1.25" transform="translate(560.50 348.00) rotate(312.86)"/>
<path d="M59.20,-1.7 L51.60,-1.05 Q50.40,0 51.60,1.05 L59.20,1.7" fill="#fff" stroke-width="1.25" transform="translate(560.50 348.00) rotate(321.43)"/>
<path d="M59.20,-1.7 L51.60,-1.05 Q50.40,0 51.60,1.05 L59.20,1.7" fill="#fff" stroke-width="1.25" transform="translate(560.50 348.00) rotate(330.00)"/>
<path d="M59.20,-1.7 L51.60,-1.05 Q50.40,0 51.60,1.05 L59.20,1.7" fill="#fff" stroke-width="1.25" transform="translate(560.50 348.00) rotate(338.57)"/>
<path d="M59.20,-1.7 L51.60,-1.05 Q50.40,0 51.60,1.05 L59.20,1.7" fill="#fff" stroke-width="1.25" transform="translate(560.50 348.00) rotate(347.14)"/>
<path d="M59.20,-1.7 L51.60,-1.05 Q50.40,0 51.60,1.05 L59.20,1.7" fill="#fff" stroke-width="1.25" transform="translate(560.50 348.00) rotate(355.71)"/>
<circle cx="560.50" cy="348.00" r="48.20"/>
<circle cx="560.50" cy="348.00" r="36.00"/>
<circle cx="560.50" cy="348.00" r="33.60"/>
<circle cx="560.50" cy="348.00" r="30.40"/>
<circle cx="560.50" cy="348.00" r="13.30"/>
<circle cx="560.50" cy="348.00" r="10.30"/>
<circle cx="577.70" cy="348.00" r="1.70"/>
<circle cx="583.23" cy="357.41" r="1.70"/>
<circle cx="572.66" cy="360.16" r="1.70"/>
<circle cx="569.91" cy="370.73" r="1.70"/>
<circle cx="560.50" cy="365.20" r="1.70"/>
<circle cx="551.09" cy="370.73" r="1.70"/>
<circle cx="548.34" cy="360.16" r="1.70"/>
<circle cx="537.77" cy="357.41" r="1.70"/>
<circle cx="543.30" cy="348.00" r="1.70"/>
<circle cx="537.77" cy="338.59" r="1.70"/>
<circle cx="548.34" cy="335.84" r="1.70"/>
<circle cx="551.09" cy="325.27" r="1.70"/>
<circle cx="560.50" cy="330.80" r="1.70"/>
<circle cx="569.91" cy="325.27" r="1.70"/>
<circle cx="572.66" cy="335.84" r="1.70"/>
<circle cx="583.23" cy="338.59" r="1.70"/>
<circle cx="559.23" cy="340.81" r="1.00" fill="#777"/>
<circle cx="567.36" cy="350.50" r="1.00" fill="#777"/>
<circle cx="554.91" cy="352.69" r="1.00" fill="#777"/>
<g transform="translate(560.50 348.00) rotate(0)"><path d="M-4.3,30.2 L-4.3,36 Q-4.3,39.4 0,39.4 Q4.3,39.4 4.3,36 L4.3,30.2 Z" fill="#fff" stroke-width="1.5"/><path d="M-1.6,37 L-1.6,33.8 Q0,32.2 1.6,33.8 L1.6,37" stroke-width="1.5"/></g>
<g transform="translate(560.50 348.00) rotate(120)"><path d="M-4.3,30.2 L-4.3,36 Q-4.3,39.4 0,39.4 Q4.3,39.4 4.3,36 L4.3,30.2 Z" fill="#fff" stroke-width="1.5"/><path d="M-1.6,37 L-1.6,33.8 Q0,32.2 1.6,33.8 L1.6,37" stroke-width="1.5"/></g>
<g transform="translate(560.50 348.00) rotate(240)"><path d="M-4.3,30.2 L-4.3,36 Q-4.3,39.4 0,39.4 Q4.3,39.4 4.3,36 L4.3,30.2 Z" fill="#fff" stroke-width="1.5"/><path d="M-1.6,37 L-1.6,33.8 Q0,32.2 1.6,33.8 L1.6,37" stroke-width="1.5"/></g>
<path d="M132.5,268.7 L172,268.7 C183,268.7 195,273 207.5,282.3 C214,287.5 219,293 222,297 C227,303 237,314.5 242.3,321.5 L236.5,321.5 C233.5,317 228,310 223.9,304.2 C220.5,299.5 216,293 211.1,288.7 C197,277 186,272.4 178,272.4 L132.5,272.4 Z" fill="#fff"/>
<line x1="236.50" y1="321.50" x2="242.30" y2="321.50"/>
<line x1="167.50" y1="411.50" x2="167.50" y2="435.00"/>
<line x1="425.50" y1="412.50" x2="425.50" y2="435.00"/>
<line x1="560.30" y1="412.50" x2="560.30" y2="435.00"/>
<line x1="167.50" y1="425.80" x2="560.30" y2="425.80"/>
<polygon points="167.50,425.80 180.00,422.80 176.50,425.80 180.00,428.80" fill="#777" stroke-width="0.9"/>
<polygon points="425.50,425.80 413.00,428.80 416.50,425.80 413.00,422.80" fill="#777" stroke-width="0.9"/>
<polygon points="425.50,425.80 438.00,422.80 434.50,425.80 438.00,428.80" fill="#777" stroke-width="0.9"/>
<polygon points="560.30,425.80 547.80,428.80 551.30,425.80 547.80,422.80" fill="#777" stroke-width="0.9"/>
<text x="300.60" y="422.40" font-size="17" text-anchor="middle" class="t">1845</text>
<text x="494.20" y="421.80" font-size="17" text-anchor="middle" class="t">1000</text>
<polyline points="470.80,251.00 470.80,245.00 478.50,245.00"/>
<line x1="470.80" y1="248.30" x2="480.00" y2="248.30"/>
<polyline points="525.00,250.80 530.00,245.40 560.00,245.40 566.80,250.80"/>
<rect x="529.70" y="239.20" width="28.60" height="3.40" rx="1.5"/>
<polyline points="529.70,243.20 556.00,243.20 556.00,245.40"/>
<polyline points="596.70,200.30 739.80,202.50 743.50,200.60"/>
<polyline points="596.70,218.50 739.80,213.80 743.50,216.20"/>
<line x1="739.80" y1="202.50" x2="739.80" y2="213.80"/>
<rect x="743.50" y="200.50" width="12.50" height="15.80" rx="1.2"/>
<rect x="590.00" y="198.00" width="6.70" height="22.00"/>
<rect x="578.30" y="192.50" width="11.70" height="33.80" rx="2" fill="#fff"/>
<rect x="531.70" y="195.80" width="46.60" height="27.50"/>
<line x1="529.50" y1="195.80" x2="531.70" y2="195.80"/>
<line x1="529.50" y1="223.30" x2="531.70" y2="223.30"/>
<line x1="529.50" y1="192.50" x2="554.70" y2="192.50"/>
<rect x="558.70" y="195.80" width="6.30" height="27.50"/>
<line x1="561.80" y1="195.80" x2="561.80" y2="223.30"/>
<rect x="538.30" y="223.30" width="6.70" height="4.10"/>
<polyline points="559.00,223.30 559.00,226.00 562.00,228.30 568.00,226.60 570.00,223.30"/>
<rect x="560.80" y="228.30" width="2.20" height="9.20" rx="1"/>
<line x1="529.50" y1="179.20" x2="596.00" y2="179.20"/>
<line x1="564.20" y1="192.50" x2="596.00" y2="192.50"/>
<rect x="595.80" y="178.70" width="6.70" height="15.00" rx="2.5" fill="#fff"/>
<rect x="602.50" y="183.30" width="3.50" height="5.90"/>
<circle cx="606.40" cy="186.20" r="1.40" fill="#fff"/>
<rect x="554.70" y="175.80" width="9.50" height="19.70" rx="2" fill="#fff"/>
<polyline points="476.70,194.20 419.00,194.20 419.00,226.70 431.00,226.70"/>
<polyline points="441.70,194.20 441.70,189.70 447.50,189.70 447.50,186.70 451.70,186.70 451.70,184.20 455.00,184.20 455.00,180.00 458.00,179.20 465.80,179.20 465.80,175.20"/>
<line x1="447.50" y1="189.70" x2="447.50" y2="194.20"/>
<line x1="451.70" y1="186.70" x2="451.70" y2="194.20"/>
<line x1="455.00" y1="184.20" x2="455.00" y2="194.20"/>
<rect x="466.70" y="168.00" width="10.00" height="7.20" rx="1"/>
<rect x="468.30" y="175.20" width="6.70" height="3.30"/>
<polyline points="465.00,195.00 465.00,179.20 476.70,179.20"/>
<line x1="471.50" y1="179.20" x2="471.50" y2="194.20"/>
<rect x="413.30" y="210.80" width="16.70" height="5.90" fill="#fff"/>
<circle cx="420.00" cy="213.80" r="1.10"/>
<path d="M430,209.5 C436,204 446,202 453,203.8 L455,209 C447,207 438,209 433,214 Z" fill="#fff"/>
<path d="M433,214 C440,208.5 448,208 455,209.5"/>
<path d="M455,205 C459,204 462,204.5 464,204 C468,203.2 470.2,206 469.5,209.3 C468.5,214 462,217.5 455,217 C450,216.8 445,214.5 441,212"/>
<circle cx="453.50" cy="206.60" r="2.60" fill="#fff"/>
<circle cx="466.30" cy="209.00" r="1.70"/>
<polygon points="430.60,223.50 435.00,231.80 453.50,225.80 449.60,216.80" fill="#fff"/>
<polyline points="439.00,220.50 443.00,228.80"/>
<polyline points="444.00,218.80 448.00,227.40"/>
<line x1="448.00" y1="210.50" x2="451.00" y2="217.50"/>
<polyline points="416.30,193.00 417.00,191.30 419.00,191.50 434.60,218.50 432.00,220.00 416.30,193.00" fill="#fff"/>
<circle cx="433.00" cy="220.20" r="2.70" fill="#fff"/>
<line x1="435.00" y1="232.00" x2="460.80" y2="232.00"/>
<rect x="460.80" y="228.30" width="15.90" height="10.00" fill="#fff"/>
<polyline points="453.50,225.80 476.70,222.40"/>
<path d="M453,228 Q456,232.5 460.8,230"/>
<line x1="476.70" y1="166.70" x2="476.70" y2="238.30"/>
<rect x="478.30" y="157.00" width="47.50" height="91.30" rx="5" fill="#fff"/>
<circle cx="482.60" cy="166.70" r="1.30" fill="#777"/>
<circle cx="482.60" cy="179.20" r="1.30" fill="#777"/>
<circle cx="482.60" cy="191.70" r="1.30" fill="#777"/>
<circle cx="482.60" cy="204.20" r="1.30" fill="#777"/>
<circle cx="482.60" cy="214.20" r="1.30" fill="#777"/>
<circle cx="482.60" cy="226.70" r="1.30" fill="#777"/>
<circle cx="482.60" cy="240.00" r="1.30" fill="#777"/>
<path d="M525.8,170.8 L500.40,170.8 A2.90,2.90 0 0 0 500.40,176.6 L525.8,176.6"/>
<path d="M525.8,224.2 L500.30,224.2 A2.80,2.80 0 0 0 500.30,229.8 L525.8,229.8"/>
<polyline points="500.00,157.00 500.00,128.60 486.80,107.60"/>
<polyline points="503.00,157.00 503.00,127.40 489.80,106.00"/>
<rect x="481.30" y="101.30" width="6.50" height="6.30" fill="#fff"/>
<polyline points="483.00,103.00 486.20,103.00 486.20,106.00"/>
<path d="M525.9,248 L525.9,178.5 L512.3,143.2 Q511.8,141 513.6,140.6 Q515.2,140.3 515.9,142 L529.3,176.6 L529.3,248" fill="#fff"/>
<g transform="translate(314.8 57.2) rotate(31.2)">
<polygon points="0.00,-2.80 0.00,2.80 12.50,1.30 12.50,-1.30" fill="#fff"/>
<rect x="12.50" y="-1.10" width="7.50" height="2.20"/>
<line x1="24.00" y1="-4.20" x2="64.00" y2="-4.20"/>
<line x1="24.00" y1="-2.20" x2="64.00" y2="-2.20"/>
<line x1="24.00" y1="1.00" x2="62.00" y2="1.00"/>
<line x1="24.00" y1="3.60" x2="58.00" y2="3.60"/>
<rect x="20.00" y="-5.20" width="4.00" height="10.20" rx="0.8" fill="#fff"/>
<line x1="20.00" y1="-0.50" x2="24.00" y2="-0.50"/>
<path d="M62,-5.2 L108.5,-5.2 L110,-3 L110,4.5 L82,4.5 L78,8 L70,8 L61,4.5 Z" fill="#fff"/>
<line x1="64.00" y1="-1.50" x2="80.00" y2="-1.50"/>
<polyline points="84.00,-5.20 80.30,-23.50 91.60,-26.00 95.00,-5.20" fill="#fff"/>
<line x1="89.00" y1="-8.00" x2="92.50" y2="-8.00"/>
<path d="M85,4.5 L85,9.5 Q85,12.3 88,12.3 L102,12.3 L102,4.5" fill="#fff"/>
<line x1="89.00" y1="6.20" x2="87.80" y2="10.50" stroke-width="1.5"/>
<line x1="92.50" y1="6.20" x2="91.30" y2="10.50" stroke-width="1.5"/>
<line x1="96.00" y1="6.20" x2="94.80" y2="10.50" stroke-width="1.5"/>
<polyline points="102.00,4.50 103.00,19.40 112.00,18.00 111.00,4.50" fill="#fff"/>
<path d="M110,-3 C114,-2.4 117,-1.6 120,-1.6 L150,-1.4 L148.6,15 L123,8 C118,6.6 114,5 110,4.5 Z" fill="#fff"/>
<polygon points="72.80,-7.50 77.20,-7.50 78.60,12.00 74.20,13.50" fill="#fff"/>
</g>
<path d="M377.5,107.5 Q378,112 382.5,110.5" fill="#fff"/>
<line x1="33.80" y1="551.30" x2="33.80" y2="655.90"/>
<line x1="38.80" y1="553.00" x2="38.80" y2="654.20"/>
<line x1="75.50" y1="600.20" x2="190.00" y2="600.20"/>
<line x1="75.50" y1="606.80" x2="190.00" y2="606.80"/>
<line x1="49.50" y1="560.00" x2="49.50" y2="647.20"/>
<line x1="75.00" y1="550.50" x2="75.00" y2="656.70"/>
<line x1="190.00" y1="527.50" x2="190.00" y2="679.70"/>
<line x1="198.80" y1="523.60" x2="198.80" y2="683.60"/>
<line x1="240.00" y1="505.30" x2="240.00" y2="701.90"/>
<line x1="245.00" y1="503.10" x2="245.00" y2="704.10"/>
<line x1="249.50" y1="501.30" x2="249.50" y2="705.90"/>
<rect x="20.00" y="523.80" width="69.50" height="23.70" rx="4" fill="#fff"/>
<line x1="21.00" y1="528.40" x2="88.50" y2="528.40" stroke-width="1.0"/>
<line x1="21.00" y1="531.80" x2="88.50" y2="531.80" stroke-width="1.0"/>
<line x1="21.00" y1="535.20" x2="88.50" y2="535.20" stroke-width="1.0"/>
<line x1="21.00" y1="538.60" x2="88.50" y2="538.60" stroke-width="1.0"/>
<line x1="21.00" y1="542.40" x2="88.50" y2="542.40" stroke-width="1.0"/>
<path d="M58,518.2 C68,519.5 74.6,526 74.6,533 C74.6,540.5 68,546.5 58,548 Z" fill="#fff"/>
<path d="M54.6,517.4 L58,518.2 L58,548 L54.6,548.6 Z" fill="#fff"/>
<rect x="59.50" y="548.20" width="3.00" height="3.20"/>
<rect x="32.50" y="551.30" width="30.00" height="1.90" rx="0.8"/>
<line x1="112.00" y1="497.50" x2="117.50" y2="497.50"/>
<path d="M148,483.2 L122,483.2 Q117.6,485.5 117.4,497.5 Q117.6,509.5 122,511.9 L148,511.9" fill="#fff"/>
<path d="M121,485 L146,485 M120,486.6 L123,486.6 M121,510.2 L146,510.2 M120,508.6 L123,508.6" stroke-width="0.8"/>
<path d="M124.50,485.4 L124.50,494.4 Q126.15,497.6 127.80,494.4 L127.80,485.4"/>
<path d="M120.60,509.8 L120.60,500.6 Q122.25,497.2 123.90,500.6 L123.90,509.8"/>
<path d="M133.00,485.4 L133.00,494.4 Q134.65,497.6 136.30,494.4 L136.30,485.4"/>
<path d="M129.10,509.8 L129.10,500.6 Q130.75,497.2 132.40,500.6 L132.40,509.8"/>
<path d="M141.50,485.4 L141.50,494.4 Q143.15,497.6 144.80,494.4 L144.80,485.4"/>
<path d="M137.60,509.8 L137.60,500.6 Q139.25,497.2 140.90,500.6 L140.90,509.8"/>
<path d="M150.00,485.4 L150.00,494.4 Q151.65,497.6 153.30,494.4 L153.30,485.4"/>
<path d="M146.10,509.8 L146.10,500.6 Q147.75,497.2 149.40,500.6 L149.40,509.8"/>
<path d="M258.8,497.8 L258.8,467.5 L167.5,467.5 C151,467.5 143.8,478 143.8,487.5 C143.8,497 148,503 153,507.5 C159,512.5 169,513.5 176,517 C182,520 185,523.5 187.8,528.5 L190,527.5 L246.3,502.5 Z" fill="#fff" stroke="none"/>
<path d="M258.8,497.8 L258.8,467.5 L167.5,467.5 C151,467.5 143.8,478 143.8,487.5 C143.8,497 148,503 153,507.5 C159,512.5 169,513.5 176,517 C182,520 185,523.5 187.8,528.5 L190.6,526 C188,520.5 185,516.5 178.8,513.5 C172,510.3 161,509.5 155.5,504.5 C151,500.5 147.5,495 147.5,487.5 C147.5,480 153,471.2 168,471.2 L255,471.2 L255,499.2" fill="#fff"/>
<line x1="165.50" y1="513.80" x2="165.50" y2="532.80"/>
<path d="M49.5,560.2 Q49.5,555.2 53.8,554.5 L188.8,528.8"/>
<polyline points="78.00,549.89 78.60,546.89 83.60,547.89 84.20,548.69"/>
<polyline points="86.50,548.26 87.10,545.26 92.10,546.26 92.70,547.06"/>
<polyline points="95.00,546.64 95.60,543.64 100.60,544.64 101.20,545.44"/>
<polyline points="103.50,545.02 104.10,542.02 109.10,543.02 109.70,543.82"/>
<polyline points="112.00,543.40 112.60,540.40 117.60,541.40 118.20,542.20"/>
<polyline points="120.50,541.78 121.10,538.78 126.10,539.78 126.70,540.58"/>
<polyline points="129.00,540.16 129.60,537.16 134.60,538.16 135.20,538.96"/>
<polyline points="137.50,538.54 138.10,535.54 143.10,536.54 143.70,537.34"/>
<polyline points="146.00,536.92 146.60,533.92 151.60,534.92 152.20,535.72"/>
<polyline points="154.50,535.30 155.10,532.30 160.10,533.30 160.70,534.10"/>
<polyline points="163.00,533.68 163.60,530.68 168.60,531.68 169.20,532.48"/>
<polyline points="171.50,532.05 172.10,529.05 177.10,530.05 177.70,530.85"/>
<polyline points="180.00,530.43 180.60,527.43 185.60,528.43 186.20,529.23"/>
<polyline points="190.00,527.50 246.30,502.50 260.00,497.60"/>
<rect x="209.50" y="547.00" width="22.30" height="35.50"/>
<line x1="248.80" y1="501.30" x2="400.00" y2="475.60"/>
<line x1="291.00" y1="485.00" x2="400.00" y2="475.60"/>
<polygon points="264.00,489.60 291.00,484.80 292.50,492.30 265.50,497.20" fill="#fff"/>
<polyline points="267.00,489.20 268.50,496.50"/>
<polyline points="288.00,485.40 289.50,492.80"/>
<g transform="translate(0 1207.20) scale(1 -1)">
<rect x="20.00" y="523.80" width="69.50" height="23.70" rx="4" fill="#fff"/>
<line x1="21.00" y1="528.40" x2="88.50" y2="528.40" stroke-width="1.0"/>
<line x1="21.00" y1="531.80" x2="88.50" y2="531.80" stroke-width="1.0"/>
<line x1="21.00" y1="535.20" x2="88.50" y2="535.20" stroke-width="1.0"/>
<line x1="21.00" y1="538.60" x2="88.50" y2="538.60" stroke-width="1.0"/>
<line x1="21.00" y1="542.40" x2="88.50" y2="542.40" stroke-width="1.0"/>
<path d="M58,518.2 C68,519.5 74.6,526 74.6,533 C74.6,540.5 68,546.5 58,548 Z" fill="#fff"/>
<path d="M54.6,517.4 L58,518.2 L58,548 L54.6,548.6 Z" fill="#fff"/>
<rect x="59.50" y="548.20" width="3.00" height="3.20"/>
<rect x="32.50" y="551.30" width="30.00" height="1.90" rx="0.8"/>
<line x1="112.00" y1="497.50" x2="117.50" y2="497.50"/>
<path d="M148,483.2 L122,483.2 Q117.6,485.5 117.4,497.5 Q117.6,509.5 122,511.9 L148,511.9" fill="#fff"/>
<path d="M121,485 L146,485 M120,486.6 L123,486.6 M121,510.2 L146,510.2 M120,508.6 L123,508.6" stroke-width="0.8"/>
<path d="M124.50,485.4 L124.50,494.4 Q126.15,497.6 127.80,494.4 L127.80,485.4"/>
<path d="M120.60,509.8 L120.60,500.6 Q122.25,497.2 123.90,500.6 L123.90,509.8"/>
<path d="M133.00,485.4 L133.00,494.4 Q134.65,497.6 136.30,494.4 L136.30,485.4"/>
<path d="M129.10,509.8 L129.10,500.6 Q130.75,497.2 132.40,500.6 L132.40,509.8"/>
<path d="M141.50,485.4 L141.50,494.4 Q143.15,497.6 144.80,494.4 L144.80,485.4"/>
<path d="M137.60,509.8 L137.60,500.6 Q139.25,497.2 140.90,500.6 L140.90,509.8"/>
<path d="M150.00,485.4 L150.00,494.4 Q151.65,497.6 153.30,494.4 L153.30,485.4"/>
<path d="M146.10,509.8 L146.10,500.6 Q147.75,497.2 149.40,500.6 L149.40,509.8"/>
<path d="M258.8,497.8 L258.8,467.5 L167.5,467.5 C151,467.5 143.8,478 143.8,487.5 C143.8,497 148,503 153,507.5 C159,512.5 169,513.5 176,517 C182,520 185,523.5 187.8,528.5 L190,527.5 L246.3,502.5 Z" fill="#fff" stroke="none"/>
<path d="M258.8,497.8 L258.8,467.5 L167.5,467.5 C151,467.5 143.8,478 143.8,487.5 C143.8,497 148,503 153,507.5 C159,512.5 169,513.5 176,517 C182,520 185,523.5 187.8,528.5 L190.6,526 C188,520.5 185,516.5 178.8,513.5 C172,510.3 161,509.5 155.5,504.5 C151,500.5 147.5,495 147.5,487.5 C147.5,480 153,471.2 168,471.2 L255,471.2 L255,499.2" fill="#fff"/>
<line x1="165.50" y1="513.80" x2="165.50" y2="532.80"/>
<path d="M49.5,560.2 Q49.5,555.2 53.8,554.5 L188.8,528.8"/>
<polyline points="78.00,549.89 78.60,546.89 83.60,547.89 84.20,548.69"/>
<polyline points="86.50,548.26 87.10,545.26 92.10,546.26 92.70,547.06"/>
<polyline points="95.00,546.64 95.60,543.64 100.60,544.64 101.20,545.44"/>
<polyline points="103.50,545.02 104.10,542.02 109.10,543.02 109.70,543.82"/>
<polyline points="112.00,543.40 112.60,540.40 117.60,541.40 118.20,542.20"/>
<polyline points="120.50,541.78 121.10,538.78 126.10,539.78 126.70,540.58"/>
<polyline points="129.00,540.16 129.60,537.16 134.60,538.16 135.20,538.96"/>
<polyline points="137.50,538.54 138.10,535.54 143.10,536.54 143.70,537.34"/>
<polyline points="146.00,536.92 146.60,533.92 151.60,534.92 152.20,535.72"/>
<polyline points="154.50,535.30 155.10,532.30 160.10,533.30 160.70,534.10"/>
<polyline points="163.00,533.68 163.60,530.68 168.60,531.68 169.20,532.48"/>
<polyline points="171.50,532.05 172.10,529.05 177.10,530.05 177.70,530.85"/>
<polyline points="180.00,530.43 180.60,527.43 185.60,528.43 186.20,529.23"/>
<polyline points="190.00,527.50 246.30,502.50 260.00,497.60"/>
<rect x="209.50" y="547.00" width="22.30" height="35.50"/>
<line x1="248.80" y1="501.30" x2="400.00" y2="475.60"/>
<line x1="291.00" y1="485.00" x2="400.00" y2="475.60"/>
<polygon points="264.00,489.60 291.00,484.80 292.50,492.30 265.50,497.20" fill="#fff"/>
<polyline points="267.00,489.20 268.50,496.50"/>
<polyline points="288.00,485.40 289.50,492.80"/>
</g>
<circle cx="62.50" cy="603.80" r="5.50"/>
<polyline points="383.00,478.40 383.00,473.80 662.30,473.80 662.30,548.80 649.80,548.80 649.80,537.50"/>
<line x1="649.80" y1="543.60" x2="662.30" y2="543.60"/>
<line x1="400.00" y1="475.60" x2="400.00" y2="731.60"/>
<line x1="400.00" y1="537.50" x2="662.30" y2="537.50"/>
<line x1="400.00" y1="673.00" x2="662.30" y2="673.00"/>
<line x1="421.30" y1="473.80" x2="421.30" y2="537.50"/>
<line x1="616.00" y1="473.80" x2="616.00" y2="537.50"/>
<polyline points="383.00,728.90 383.00,731.60 662.30,731.60 662.30,662.50 649.80,662.50 649.80,673.00"/>
<line x1="649.80" y1="667.60" x2="662.30" y2="667.60"/>
<line x1="421.30" y1="673.00" x2="421.30" y2="731.60"/>
<line x1="616.00" y1="673.00" x2="616.00" y2="731.60"/>
<line x1="589.80" y1="537.50" x2="589.80" y2="673.00"/>
<line x1="628.50" y1="537.50" x2="628.50" y2="673.00"/>
<line x1="649.80" y1="537.50" x2="649.80" y2="673.00"/>
<circle cx="367.50" cy="601.30" r="5.00"/>
<rect x="378.80" y="593.80" width="11.20" height="15.20"/>
<rect x="381.50" y="596.50" width="7.50" height="10.00"/>
<path d="M389,598.5 L386,598.5 Q383.5,601.5 386,604.5 L389,604.5"/>
<clipPath id="cpp"><rect x="553.6" y="600" width="40" height="80"/><rect x="505" y="656.5" width="33" height="17"/></clipPath>
<circle cx="544" cy="642" r="31" clip-path="url(#cpp)"/>
<rect x="496.00" y="670.20" width="25.40" height="2.80"/>
<polyline points="556.00,629.30 738.50,632.60"/>
<polyline points="636.00,647.60 738.50,645.80"/>
<line x1="738.50" y1="632.60" x2="738.50" y2="645.80"/>
<polyline points="738.50,632.60 740.50,631.00"/>
<polyline points="738.50,645.80 740.50,648.60"/>
<rect x="740.20" y="630.80" width="15.40" height="18.00" rx="1.2" fill="#fff"/>
<line x1="556.00" y1="637.60" x2="582.30" y2="637.60"/>
<line x1="556.00" y1="651.40" x2="582.30" y2="651.40"/>
<rect x="592.00" y="637.60" width="33.00" height="13.70" fill="#fff"/>
<rect x="582.30" y="634.50" width="10.00" height="19.30" rx="1.5" fill="#fff"/>
<rect x="624.80" y="636.80" width="9.60" height="14.80" rx="2" fill="#fff"/>
<circle cx="635.60" cy="644.40" r="1.30" fill="#fff"/>
<line x1="480.50" y1="623.30" x2="541.00" y2="623.30"/>
<line x1="480.50" y1="627.20" x2="542.50" y2="627.20"/>
<line x1="480.50" y1="629.20" x2="543.00" y2="629.20"/>
<line x1="497.00" y1="635.00" x2="543.50" y2="635.00"/>
<line x1="512.70" y1="651.60" x2="536.00" y2="651.60"/>
<line x1="499.00" y1="656.50" x2="538.00" y2="656.50"/>
<ellipse cx="525.40" cy="653.00" rx="3.00" ry="1.40"/>
<rect x="483.40" y="635.00" width="13.60" height="15.70" fill="#fff"/>
<line x1="480.00" y1="640.50" x2="483.40" y2="640.50"/>
<line x1="480.00" y1="645.00" x2="483.40" y2="645.00"/>
<rect x="497.00" y="633.00" width="15.70" height="20.60" rx="1" fill="#fff"/>
<line x1="501.60" y1="633.00" x2="501.60" y2="653.60"/>
<line x1="509.50" y1="633.00" x2="509.50" y2="653.60"/>
<rect x="438.40" y="621.40" width="41.10" height="35.10" fill="#fff"/>
<line x1="481.50" y1="621.40" x2="481.50" y2="656.50"/>
<line x1="453.00" y1="621.40" x2="453.00" y2="629.00"/>
<line x1="462.00" y1="621.40" x2="462.00" y2="629.00"/>
<line x1="453.00" y1="652.00" x2="453.00" y2="656.50"/>
<line x1="462.00" y1="648.70" x2="462.00" y2="656.50"/>
<path d="M455,629 L467,629 A9.8,9.8 0 0 1 467,648.7 L453,648.7"/>
<rect x="438.40" y="629.00" width="16.60" height="4.00"/>
<rect x="438.40" y="644.80" width="14.60" height="7.20"/>
<rect x="439.40" y="656.50" width="59.60" height="2.00" fill="#999"/>
<ellipse cx="434.50" cy="661.40" rx="5.50" ry="2.00"/>
<polyline points="439.00,660.00 446.00,663.50"/>
<rect x="447.20" y="661.20" width="21.50" height="3.10" rx="1"/>
<rect x="473.60" y="659.50" width="21.40" height="2.90"/>
<rect x="421.80" y="615.50" width="52.80" height="5.90" rx="2" fill="#fff"/>
<path d="M491.02,580.01 A20.9,20.9 0 1 0 491.02,587.99 Q486.40,586.50 486.20,584.00 Q486.40,581.50 491.02,580.01 Z" fill="#fff"/>
<circle cx="483.04" cy="592.08" r="1.80"/>
<circle cx="478.60" cy="596.81" r="1.80"/>
<circle cx="472.62" cy="599.32" r="1.80"/>
<circle cx="466.14" cy="599.19" r="1.80"/>
<circle cx="460.27" cy="596.43" r="1.80"/>
<circle cx="456.03" cy="591.52" r="1.80"/>
<circle cx="454.15" cy="585.31" r="1.80"/>
<circle cx="454.97" cy="578.87" r="1.80"/>
<circle cx="458.33" cy="573.32" r="1.80"/>
<circle cx="463.65" cy="569.62" r="1.80"/>
<circle cx="470.03" cy="568.40" r="1.80"/>
<circle cx="476.34" cy="569.88" r="1.80"/>
<circle cx="481.51" cy="573.81" r="1.80"/>
<circle cx="484.63" cy="579.49" r="1.80"/>
<circle cx="479.88" cy="584.58" r="1.80"/>
<circle cx="477.95" cy="590.00" r="1.80"/>
<circle cx="473.40" cy="593.51" r="1.80"/>
<circle cx="467.67" cy="594.00" r="1.80"/>
<circle cx="462.59" cy="591.31" r="1.80"/>
<circle cx="459.77" cy="586.31" r="1.80"/>
<circle cx="460.09" cy="580.57" r="1.80"/>
<circle cx="463.47" cy="575.92" r="1.80"/>
<circle cx="468.83" cy="573.84" r="1.80"/>
<circle cx="474.46" cy="574.98" r="1.80"/>
<circle cx="478.58" cy="578.98" r="1.80"/>
<circle cx="473.94" cy="586.45" r="1.80"/>
<circle cx="469.70" cy="588.90" r="1.80"/>
<circle cx="465.46" cy="586.45" r="1.80"/>
<circle cx="465.46" cy="581.55" r="1.80"/>
<circle cx="469.70" cy="579.10" r="1.80"/>
<circle cx="473.94" cy="581.55" r="1.80"/>
<rect x="478.60" y="605.30" width="6.30" height="16.10" fill="#fff"/>
<rect x="496.60" y="614.50" width="3.90" height="8.80" rx="1.8" fill="#fff"/>
<line x1="518.70" y1="549.60" x2="518.70" y2="601.50"/>
<rect x="519.50" y="601.00" width="16.00" height="5.00" fill="#fff"/>
<line x1="524.00" y1="601.00" x2="524.00" y2="606.00"/>
<line x1="529.00" y1="601.00" x2="529.00" y2="606.00"/>
<circle cx="514.50" cy="606.50" r="1.60"/>
<rect x="513.00" y="607.50" width="3.00" height="5.50"/>
<ellipse cx="524.30" cy="611.80" rx="11.80" ry="6.20" fill="#fff"/>
<ellipse cx="524.30" cy="611.80" rx="9.80" ry="4.40"/>
<circle cx="518.60" cy="612.00" r="2.30"/>
<circle cx="530.20" cy="611.40" r="2.30"/>
<circle cx="518.60" cy="612.00" r="0.80"/>
<circle cx="530.20" cy="611.40" r="0.80"/>
<rect x="521.50" y="617.50" width="6.80" height="8.70" rx="1.5" fill="#fff"/>
<line x1="531.00" y1="617.00" x2="531.00" y2="623.30"/>
<line x1="534.00" y1="617.00" x2="534.00" y2="623.30"/>
<path d="M511,546.2 L514,545.2 L532,545.2 M511.2,551 L514.5,550.4 L530,550.4"/>
<circle cx="507.30" cy="548.60" r="4.40" fill="#fff"/>
<circle cx="507.30" cy="548.60" r="2.30"/>
<path d="M548.30,554.70 C547.60,555.92 545.50,559.12 544.10,562.00 C542.70,564.88 541.03,567.72 539.90,572.00 C538.77,576.28 537.85,583.03 537.30,587.70 C536.75,592.37 536.48,596.12 536.60,600.00 C536.72,603.88 537.18,607.67 538.00,611.00 C538.82,614.33 540.33,616.83 541.50,620.00 C542.67,623.17 544.55,626.33 545.00,630.00 C545.45,633.67 544.95,638.25 544.20,642.00 C543.45,645.75 541.73,649.00 540.50,652.50 C539.27,656.00 537.72,659.25 536.80,663.00 C535.88,666.75 535.30,670.83 535.00,675.00 C534.70,679.17 534.67,684.17 535.00,688.00 C535.33,691.83 536.00,694.83 537.00,698.00 C538.00,701.17 539.25,704.42 541.00,707.00 C542.75,709.58 546.42,712.42 547.50,713.50 L553.6,716 L553.6,551.3 Z" fill="#fff" stroke="none"/>
<path d="M548.30,554.70 C547.60,555.92 545.50,559.12 544.10,562.00 C542.70,564.88 541.03,567.72 539.90,572.00 C538.77,576.28 537.85,583.03 537.30,587.70 C536.75,592.37 536.48,596.12 536.60,600.00 C536.72,603.88 537.18,607.67 538.00,611.00 C538.82,614.33 540.33,616.83 541.50,620.00 C542.67,623.17 544.55,626.33 545.00,630.00 C545.45,633.67 544.95,638.25 544.20,642.00 C543.45,645.75 541.73,649.00 540.50,652.50 C539.27,656.00 537.72,659.25 536.80,663.00 C535.88,666.75 535.30,670.83 535.00,675.00 C534.70,679.17 534.67,684.17 535.00,688.00 C535.33,691.83 536.00,694.83 537.00,698.00 C538.00,701.17 539.25,704.42 541.00,707.00 C542.75,709.58 546.42,712.42 547.50,713.50"/>
<path d="M546.30,562.00 C545.60,563.67 543.23,567.72 542.10,572.00 C540.97,576.28 540.05,583.03 539.50,587.70 C538.95,592.37 538.68,596.12 538.80,600.00 C538.92,603.88 539.38,607.67 540.20,611.00 C541.02,614.33 542.53,616.83 543.70,620.00 C544.87,623.17 546.75,626.33 547.20,630.00 C547.65,633.67 547.15,638.25 546.40,642.00 C545.65,645.75 543.93,649.00 542.70,652.50 C541.47,656.00 539.92,659.25 539.00,663.00 C538.08,666.75 537.50,670.83 537.20,675.00 C536.90,679.17 536.87,684.17 537.20,688.00 C537.53,691.83 538.20,694.83 539.20,698.00 C540.20,701.17 542.53,705.50 543.20,707.00"/>
<line x1="553.60" y1="551.30" x2="553.60" y2="716.00"/>
<rect x="553.60" y="634.00" width="2.40" height="16.00" fill="#fff" stroke="none"/>
<line x1="553.60" y1="634.00" x2="553.60" y2="650.00"/>
<line x1="556.00" y1="634.50" x2="556.00" y2="650.50"/>
<path d="M506.2,534.2 Q504.2,532.8 505.6,531 L508.4,528 Q510,526.8 511.8,528.2 L554.2,551.3 L544.3,555.6 Z" fill="#fff"/>
<polyline points="521.00,541.30 543.80,553.40"/>
<polyline points="525.70,537.70 551.80,551.30"/>
<polyline points="521.00,541.30 522.40,539.00"/>
<polyline points="525.70,537.70 527.00,535.60"/>
<polyline points="508.60,529.20 506.80,532.40" stroke-width="0.8"/>
<path d="M506.2,732.2 Q504.2,733.6 505.4,735.6 L507.8,739.6 Q509.2,741.2 511.2,740 L554,717.8 L544.2,713.8 Z" fill="#fff"/>
<polyline points="520.50,725.40 544.00,714.60"/>
<polyline points="526.20,731.20 551.80,718.20"/>
<polyline points="520.50,725.40 521.60,727.60"/>
<polyline points="526.20,731.20 525.20,729.00"/>
<polyline points="506.60,734.40 508.80,738.20" stroke-width="0.8"/>
<line x1="20.50" y1="686.00" x2="20.50" y2="771.00"/>
<line x1="661.50" y1="736.00" x2="661.50" y2="767.00"/>
<line x1="20.50" y1="758.40" x2="661.50" y2="758.40"/>
<polygon points="20.50,758.40 33.00,755.40 29.50,758.40 33.00,761.40" fill="#777" stroke-width="0.9"/>
<polygon points="661.50,758.40 649.00,761.40 652.50,758.40 649.00,755.40" fill="#777" stroke-width="0.9"/>
<text x="355.70" y="754.90" font-size="17" text-anchor="middle" class="t">4500</text>
<line x1="668.00" y1="473.80" x2="707.00" y2="473.80"/>
<line x1="668.00" y1="731.40" x2="707.00" y2="731.40"/>
<line x1="698.00" y1="473.80" x2="698.00" y2="627.00"/>
<line x1="698.00" y1="651.00" x2="698.00" y2="731.40"/>
<polygon points="698.00,473.80 701.00,486.30 698.00,482.80 695.00,486.30" fill="#777" stroke-width="0.9"/>
<polygon points="698.00,731.40 695.00,718.90 698.00,722.40 701.00,718.90" fill="#777" stroke-width="0.9"/>
<text x="694.90" y="597.30" font-size="17" text-anchor="middle" transform="rotate(-90 694.90 597.30)" class="t">1850</text>
<line x1="23.80" y1="874.10" x2="301.30" y2="874.10" stroke-width="1.5"/>
<rect x="23.80" y="874.10" width="9.80" height="3.20" rx="0.8"/>
<rect x="288.60" y="874.10" width="12.70" height="3.20" rx="0.8"/>
<line x1="60.80" y1="892.80" x2="263.50" y2="892.80"/>
<line x1="59.80" y1="895.20" x2="264.50" y2="895.20"/>
<line x1="62.30" y1="946.40" x2="262.00" y2="946.40"/>
<rect x="106.30" y="1053.40" width="110.20" height="35.20" fill="#fff"/>
<polyline points="112.20,1053.40 112.20,1074.40 210.60,1074.40 210.60,1053.40"/>
<line x1="113.40" y1="984.20" x2="207.80" y2="984.20"/>
<line x1="113.40" y1="989.00" x2="207.80" y2="989.00"/>
<line x1="113.40" y1="991.20" x2="207.80" y2="991.20"/>
<line x1="114.80" y1="991.20" x2="114.80" y2="1053.40"/>
<line x1="121.90" y1="991.20" x2="121.90" y2="1053.40"/>
<line x1="130.00" y1="991.20" x2="130.00" y2="1053.40"/>
<line x1="138.75" y1="991.20" x2="138.75" y2="1053.40"/>
<line x1="147.30" y1="991.20" x2="147.30" y2="1053.40"/>
<line x1="155.90" y1="991.20" x2="155.90" y2="1053.40"/>
<line x1="164.50" y1="991.20" x2="164.50" y2="1053.40"/>
<line x1="172.70" y1="991.20" x2="172.70" y2="1053.40"/>
<line x1="181.25" y1="991.20" x2="181.25" y2="1053.40"/>
<line x1="191.40" y1="991.20" x2="191.40" y2="1053.40"/>
<line x1="200.00" y1="991.20" x2="200.00" y2="1053.40"/>
<line x1="207.00" y1="991.20" x2="207.00" y2="1053.40"/>
<rect x="108.70" y="1008.80" width="104.30" height="4.00" fill="#fff"/>
<line x1="27.50" y1="877.30" x2="27.50" y2="995.00"/>
<line x1="30.60" y1="877.30" x2="30.60" y2="935.00"/>
<path d="M30.6,938 C37,939.5 42.4,944 42.4,953 L42.4,995"/>
<path d="M36.5,938.4 C42,940 45.5,945 45.5,954 L45.5,995"/>
<rect x="101.6" y="951.2" width="36.2" height="4.2" rx="2.1" transform="rotate(-6.3 101.6 953.3)"/>
<path d="M160.6,954 L93,962.4 Q81,964 81,972 L81,982"/>
<path d="M160.6,956.2 L93.6,964.6 Q83.2,966 83.2,973 L83.2,981"/>
<rect x="102.40" y="972.20" width="1.00" height="3.00" rx="0.5" fill="#777"/>
<polyline points="70.50,995.00 23.80,995.00 23.80,1051.00 40.00,1051.00"/>
<line x1="23.80" y1="999.60" x2="70.50" y2="999.60"/>
<rect x="22.00" y="972.00" width="5.50" height="31.00" rx="0.8"/>
<polyline points="92.00,1014.50 108.70,1020.60"/>
<polyline points="96.00,1013.00 108.70,1017.60"/>
<line x1="84.50" y1="1013.50" x2="84.50" y2="1025.40"/>
<line x1="101.00" y1="1008.00" x2="101.00" y2="1025.40"/>
<line x1="71.00" y1="1051.00" x2="81.20" y2="1051.00"/>
<line x1="71.00" y1="1082.40" x2="81.20" y2="1082.40"/>
<line x1="71.00" y1="1060.00" x2="81.20" y2="1060.00"/>
<path d="M40,1065 Q33.8,1066 33.8,1073.8 Q33.8,1081.5 40,1082.5"/>
<g transform="translate(40.60 1009.00) skewX(0.00)">
<rect x="0.00" y="0.00" width="30.40" height="126.00" rx="4.5" fill="#fff"/>
<line x1="1.60" y1="4.00" x2="1.60" y2="122.00" stroke-width="0.7"/>
<line x1="28.80" y1="4.00" x2="28.80" y2="122.00" stroke-width="0.7"/>
<path d="M2.00,3.16 L12.17,3.16 A1.51,1.51 0 0 1 12.17,6.18 L2.00,6.18"/>
<path d="M2.00,8.72 L11.93,8.72 A1.75,1.75 0 0 1 11.93,12.21 L2.00,12.21"/>
<path d="M2.00,16.35 L11.73,16.35 A1.95,1.95 0 0 1 11.73,20.25 L2.00,20.25"/>
<path d="M2.00,25.74 L11.56,25.74 A2.12,2.12 0 0 1 11.56,29.98 L2.00,29.98"/>
<path d="M2.00,36.54 L11.43,36.54 A2.25,2.25 0 0 1 11.43,41.04 L2.00,41.04"/>
<path d="M2.00,48.33 L11.36,48.33 A2.32,2.32 0 0 1 11.36,52.98 L2.00,52.98"/>
<path d="M2.00,60.65 L11.33,60.65 A2.35,2.35 0 0 1 11.33,65.35 L2.00,65.35"/>
<path d="M2.00,73.02 L11.36,73.02 A2.32,2.32 0 0 1 11.36,77.67 L2.00,77.67"/>
<path d="M2.00,84.96 L11.43,84.96 A2.25,2.25 0 0 1 11.43,89.46 L2.00,89.46"/>
<path d="M2.00,96.02 L11.56,96.02 A2.12,2.12 0 0 1 11.56,100.26 L2.00,100.26"/>
<path d="M2.00,105.75 L11.73,105.75 A1.95,1.95 0 0 1 11.73,109.65 L2.00,109.65"/>
<path d="M2.00,113.79 L11.93,113.79 A1.75,1.75 0 0 1 11.93,117.28 L2.00,117.28"/>
<path d="M2.00,119.82 L12.17,119.82 A1.51,1.51 0 0 1 12.17,122.84 L2.00,122.84"/>
<path d="M28.40,5.67 L17.74,5.67 A1.63,1.63 0 0 0 17.74,8.93 L28.40,8.93"/>
<path d="M28.40,12.29 L17.96,12.29 A1.85,1.85 0 0 0 17.96,16.00 L28.40,16.00"/>
<path d="M28.40,20.84 L18.15,20.84 A2.04,2.04 0 0 0 18.15,24.93 L28.40,24.93"/>
<path d="M28.40,30.99 L18.30,30.99 A2.19,2.19 0 0 0 18.30,35.37 L28.40,35.37"/>
<path d="M28.40,42.34 L18.40,42.34 A2.29,2.29 0 0 0 18.40,46.92 L28.40,46.92"/>
<path d="M28.40,54.45 L18.46,54.45 A2.34,2.34 0 0 0 18.46,59.14 L28.40,59.14"/>
<path d="M28.40,66.86 L18.46,66.86 A2.34,2.34 0 0 0 18.46,71.55 L28.40,71.55"/>
<path d="M28.40,79.08 L18.40,79.08 A2.29,2.29 0 0 0 18.40,83.66 L28.40,83.66"/>
<path d="M28.40,90.63 L18.30,90.63 A2.19,2.19 0 0 0 18.30,95.01 L28.40,95.01"/>
<path d="M28.40,101.07 L18.15,101.07 A2.04,2.04 0 0 0 18.15,105.16 L28.40,105.16"/>
<path d="M28.40,110.00 L17.96,110.00 A1.85,1.85 0 0 0 17.96,113.71 L28.40,113.71"/>
<path d="M28.40,117.07 L17.74,117.07 A1.63,1.63 0 0 0 17.74,120.33 L28.40,120.33"/>
</g>
<rect x="81.20" y="1025.30" width="23.60" height="66.70" rx="5" fill="#fff"/>
<line x1="84.40" y1="1027.80" x2="84.40" y2="1089.50" stroke-width="0.7"/>
<line x1="87.27" y1="1027.80" x2="87.27" y2="1089.50" stroke-width="0.7"/>
<line x1="90.13" y1="1027.80" x2="90.13" y2="1089.50" stroke-width="0.7"/>
<line x1="93.00" y1="1027.80" x2="93.00" y2="1089.50" stroke-width="0.7"/>
<line x1="95.87" y1="1027.80" x2="95.87" y2="1089.50" stroke-width="0.7"/>
<line x1="98.73" y1="1027.80" x2="98.73" y2="1089.50" stroke-width="0.7"/>
<line x1="101.60" y1="1027.80" x2="101.60" y2="1089.50" stroke-width="0.7"/>
<circle cx="87.60" cy="996.60" r="17.00" fill="#fff"/>
<circle cx="87.60" cy="996.60" r="15.70"/>
<path d="M160.6,962.6 L118,971 Q107.5,973.5 107.5,984 L107.5,1053.4"/>
<path d="M160.6,968.8 L122,976.6 Q113.4,978.6 113.4,987 L113.4,1053.4"/>
<line x1="109.50" y1="1008.00" x2="109.50" y2="1050.00"/>
<line x1="113.40" y1="1014.00" x2="113.40" y2="1040.00" stroke-width="1.8"/>
<path d="M118.50,1064.6 L119.70,1074 Q120.40,1079 125.90,1079 Q131.40,1079 132.10,1074 L133.30,1064.6"/>
<path d="M121.50,1066 L122.30,1073 Q122.90,1076 125.90,1076 Q128.90,1076 129.50,1073 L130.30,1066"/>
<rect x="116.70" y="1063.20" width="5.00" height="5.80" rx="1.5" fill="#888"/>
<rect x="130.10" y="1063.20" width="5.00" height="5.80" rx="1.5" fill="#888"/>
<rect x="121.90" y="1059.00" width="8.00" height="12.00" rx="1" fill="#fff"/>
<line x1="121.90" y1="1062.00" x2="129.90" y2="1062.00"/>
<rect x="124.30" y="1059.80" width="3.20" height="1.40" fill="#777" stroke="none"/>
<g transform="translate(321.20 0) scale(-1 1)">
<line x1="27.50" y1="877.30" x2="27.50" y2="995.00"/>
<line x1="30.60" y1="877.30" x2="30.60" y2="935.00"/>
<path d="M30.6,938 C37,939.5 42.4,944 42.4,953 L42.4,995"/>
<path d="M36.5,938.4 C42,940 45.5,945 45.5,954 L45.5,995"/>
<rect x="101.6" y="951.2" width="36.2" height="4.2" rx="2.1" transform="rotate(-6.3 101.6 953.3)"/>
<path d="M160.6,954 L93,962.4 Q81,964 81,972 L81,982"/>
<path d="M160.6,956.2 L93.6,964.6 Q83.2,966 83.2,973 L83.2,981"/>
<rect x="102.40" y="972.20" width="1.00" height="3.00" rx="0.5" fill="#777"/>
<polyline points="70.50,995.00 23.80,995.00 23.80,1051.00 40.00,1051.00"/>
<line x1="23.80" y1="999.60" x2="70.50" y2="999.60"/>
<rect x="22.00" y="972.00" width="5.50" height="31.00" rx="0.8"/>
<polyline points="92.00,1014.50 108.70,1020.60"/>
<polyline points="96.00,1013.00 108.70,1017.60"/>
<line x1="84.50" y1="1013.50" x2="84.50" y2="1025.40"/>
<line x1="101.00" y1="1008.00" x2="101.00" y2="1025.40"/>
<line x1="71.00" y1="1051.00" x2="81.20" y2="1051.00"/>
<line x1="71.00" y1="1082.40" x2="81.20" y2="1082.40"/>
<line x1="71.00" y1="1060.00" x2="81.20" y2="1060.00"/>
<path d="M40,1065 Q33.8,1066 33.8,1073.8 Q33.8,1081.5 40,1082.5"/>
<g transform="translate(40.60 1009.00) skewX(0.00)">
<rect x="0.00" y="0.00" width="30.40" height="126.00" rx="4.5" fill="#fff"/>
<line x1="1.60" y1="4.00" x2="1.60" y2="122.00" stroke-width="0.7"/>
<line x1="28.80" y1="4.00" x2="28.80" y2="122.00" stroke-width="0.7"/>
<path d="M2.00,3.16 L12.17,3.16 A1.51,1.51 0 0 1 12.17,6.18 L2.00,6.18"/>
<path d="M2.00,8.72 L11.93,8.72 A1.75,1.75 0 0 1 11.93,12.21 L2.00,12.21"/>
<path d="M2.00,16.35 L11.73,16.35 A1.95,1.95 0 0 1 11.73,20.25 L2.00,20.25"/>
<path d="M2.00,25.74 L11.56,25.74 A2.12,2.12 0 0 1 11.56,29.98 L2.00,29.98"/>
<path d="M2.00,36.54 L11.43,36.54 A2.25,2.25 0 0 1 11.43,41.04 L2.00,41.04"/>
<path d="M2.00,48.33 L11.36,48.33 A2.32,2.32 0 0 1 11.36,52.98 L2.00,52.98"/>
<path d="M2.00,60.65 L11.33,60.65 A2.35,2.35 0 0 1 11.33,65.35 L2.00,65.35"/>
<path d="M2.00,73.02 L11.36,73.02 A2.32,2.32 0 0 1 11.36,77.67 L2.00,77.67"/>
<path d="M2.00,84.96 L11.43,84.96 A2.25,2.25 0 0 1 11.43,89.46 L2.00,89.46"/>
<path d="M2.00,96.02 L11.56,96.02 A2.12,2.12 0 0 1 11.56,100.26 L2.00,100.26"/>
<path d="M2.00,105.75 L11.73,105.75 A1.95,1.95 0 0 1 11.73,109.65 L2.00,109.65"/>
<path d="M2.00,113.79 L11.93,113.79 A1.75,1.75 0 0 1 11.93,117.28 L2.00,117.28"/>
<path d="M2.00,119.82 L12.17,119.82 A1.51,1.51 0 0 1 12.17,122.84 L2.00,122.84"/>
<path d="M28.40,5.67 L17.74,5.67 A1.63,1.63 0 0 0 17.74,8.93 L28.40,8.93"/>
<path d="M28.40,12.29 L17.96,12.29 A1.85,1.85 0 0 0 17.96,16.00 L28.40,16.00"/>
<path d="M28.40,20.84 L18.15,20.84 A2.04,2.04 0 0 0 18.15,24.93 L28.40,24.93"/>
<path d="M28.40,30.99 L18.30,30.99 A2.19,2.19 0 0 0 18.30,35.37 L28.40,35.37"/>
<path d="M28.40,42.34 L18.40,42.34 A2.29,2.29 0 0 0 18.40,46.92 L28.40,46.92"/>
<path d="M28.40,54.45 L18.46,54.45 A2.34,2.34 0 0 0 18.46,59.14 L28.40,59.14"/>
<path d="M28.40,66.86 L18.46,66.86 A2.34,2.34 0 0 0 18.46,71.55 L28.40,71.55"/>
<path d="M28.40,79.08 L18.40,79.08 A2.29,2.29 0 0 0 18.40,83.66 L28.40,83.66"/>
<path d="M28.40,90.63 L18.30,90.63 A2.19,2.19 0 0 0 18.30,95.01 L28.40,95.01"/>
<path d="M28.40,101.07 L18.15,101.07 A2.04,2.04 0 0 0 18.15,105.16 L28.40,105.16"/>
<path d="M28.40,110.00 L17.96,110.00 A1.85,1.85 0 0 0 17.96,113.71 L28.40,113.71"/>
<path d="M28.40,117.07 L17.74,117.07 A1.63,1.63 0 0 0 17.74,120.33 L28.40,120.33"/>
</g>
<rect x="81.20" y="1025.30" width="23.60" height="66.70" rx="5" fill="#fff"/>
<line x1="84.40" y1="1027.80" x2="84.40" y2="1089.50" stroke-width="0.7"/>
<line x1="87.27" y1="1027.80" x2="87.27" y2="1089.50" stroke-width="0.7"/>
<line x1="90.13" y1="1027.80" x2="90.13" y2="1089.50" stroke-width="0.7"/>
<line x1="93.00" y1="1027.80" x2="93.00" y2="1089.50" stroke-width="0.7"/>
<line x1="95.87" y1="1027.80" x2="95.87" y2="1089.50" stroke-width="0.7"/>
<line x1="98.73" y1="1027.80" x2="98.73" y2="1089.50" stroke-width="0.7"/>
<line x1="101.60" y1="1027.80" x2="101.60" y2="1089.50" stroke-width="0.7"/>
<circle cx="87.60" cy="996.60" r="17.00" fill="#fff"/>
<circle cx="87.60" cy="996.60" r="15.70"/>
<path d="M160.6,962.6 L118,971 Q107.5,973.5 107.5,984 L107.5,1053.4"/>
<path d="M160.6,968.8 L122,976.6 Q113.4,978.6 113.4,987 L113.4,1053.4"/>
<line x1="109.50" y1="1008.00" x2="109.50" y2="1050.00"/>
<line x1="113.40" y1="1014.00" x2="113.40" y2="1040.00" stroke-width="1.8"/>
<path d="M118.50,1064.6 L119.70,1074 Q120.40,1079 125.90,1079 Q131.40,1079 132.10,1074 L133.30,1064.6"/>
<path d="M121.50,1066 L122.30,1073 Q122.90,1076 125.90,1076 Q128.90,1076 129.50,1073 L130.30,1066"/>
<rect x="116.70" y="1063.20" width="5.00" height="5.80" rx="1.5" fill="#888"/>
<rect x="130.10" y="1063.20" width="5.00" height="5.80" rx="1.5" fill="#888"/>
<rect x="121.90" y="1059.00" width="8.00" height="12.00" rx="1" fill="#fff"/>
<line x1="121.90" y1="1062.00" x2="129.90" y2="1062.00"/>
<rect x="124.30" y="1059.80" width="3.20" height="1.40" fill="#777" stroke="none"/>
</g>
<line x1="32.70" y1="877.30" x2="59.80" y2="895.70"/>
<line x1="33.80" y1="875.40" x2="60.80" y2="894.20"/>
<line x1="291.60" y1="877.30" x2="264.50" y2="895.70"/>
<line x1="290.50" y1="875.40" x2="263.50" y2="894.20"/>
<line x1="30.60" y1="935.40" x2="62.30" y2="935.40"/>
<line x1="30.60" y1="938.00" x2="62.30" y2="938.00"/>
<line x1="262.00" y1="935.40" x2="290.60" y2="935.40"/>
<line x1="262.00" y1="938.00" x2="290.60" y2="938.00"/>
<path d="M62.3,946.4 Q58.5,947 58.5,952 L58.5,995"/>
<line x1="61.70" y1="949.00" x2="61.70" y2="995.00"/>
<line x1="62.30" y1="895.20" x2="62.30" y2="946.40"/>
<rect x="108.30" y="902.50" width="3.50" height="11.10" rx="1"/>
<rect x="96.80" y="917.50" width="27.00" height="4.50" rx="2.2"/>
<g transform="translate(324.30 0) scale(-1 1)">
<path d="M62.3,946.4 Q58.5,947 58.5,952 L58.5,995"/>
<line x1="61.70" y1="949.00" x2="61.70" y2="995.00"/>
<line x1="62.30" y1="895.20" x2="62.30" y2="946.40"/>
<rect x="108.30" y="902.50" width="3.50" height="11.10" rx="1"/>
<rect x="96.80" y="917.50" width="27.00" height="4.50" rx="2.2"/>
</g>
<rect x="157.90" y="957.30" width="5.80" height="5.00" rx="1.5" fill="#fff"/>
<ellipse cx="160.90" cy="964.30" rx="7.00" ry="3.00" fill="#fff"/>
<ellipse cx="161.20" cy="976.00" rx="7.70" ry="4.00"/>
<rect x="294.00" y="887.50" width="6.60" height="78.80" rx="2.5" fill="#fff"/>
<circle cx="297.30" cy="893.00" r="1.10" fill="#777"/>
<circle cx="297.30" cy="903.50" r="1.10" fill="#777"/>
<circle cx="297.30" cy="914.50" r="1.10" fill="#777"/>
<circle cx="297.30" cy="926.00" r="1.10" fill="#777"/>
<circle cx="297.30" cy="937.00" r="1.10" fill="#777"/>
<circle cx="297.30" cy="948.00" r="1.10" fill="#777"/>
<circle cx="297.30" cy="960.00" r="1.10" fill="#777"/>
<rect x="103.40" y="858.80" width="3.20" height="15.00"/>
<path d="M100.40,836 L100.40,856.5 Q100.40,858.8 102.50,858.8 L107.50,858.8 Q109.60,858.8 109.60,856.5 L109.60,836" fill="#fff"/>
<line x1="103.20" y1="836.00" x2="103.20" y2="855.00"/>
<line x1="106.80" y1="836.00" x2="106.80" y2="855.00"/>
<line x1="103.20" y1="845.50" x2="106.80" y2="845.50"/>
<line x1="103.20" y1="847.20" x2="106.80" y2="847.20"/>
<circle cx="105.00" cy="832.30" r="4.40" fill="#fff"/>
<rect x="159.50" y="857.50" width="3.00" height="16.30"/>
<path d="M154.00,829.5 L153.40,841 Q151.40,845 151.40,849 L151.40,855.5 Q151.40,857.5 153.40,857.5 L168.60,857.5 Q170.60,857.5 170.60,855.5 L170.60,849 Q170.60,845 168.60,841 L168.00,829.5 Q167.00,828.2 166.00,829.5 L166.40,841.5 Q168.20,845.5 168.20,849 L168.20,855 L153.80,855 L153.80,849 Q153.80,845.5 155.60,841.5 L156.00,829.5 Q155.00,828.2 154.00,829.5 Z" fill="#fff"/>
<rect x="156.60" y="838.60" width="8.80" height="3.80"/>
<rect x="159.00" y="835.20" width="4.00" height="3.40"/>
<line x1="161.00" y1="835.20" x2="161.00" y2="833.40"/>
<rect x="532.70" y="857.50" width="3.00" height="30.30"/>
<path d="M527.20,829.5 L526.60,841 Q524.60,845 524.60,849 L524.60,855.5 Q524.60,857.5 526.60,857.5 L541.80,857.5 Q543.80,857.5 543.80,855.5 L543.80,849 Q543.80,845 541.80,841 L541.20,829.5 Q540.20,828.2 539.20,829.5 L539.60,841.5 Q541.40,845.5 541.40,849 L541.40,855 L527.00,855 L527.00,849 Q527.00,845.5 528.80,841.5 L529.20,829.5 Q528.20,828.2 527.20,829.5 Z" fill="#fff"/>
<rect x="529.80" y="838.60" width="8.80" height="3.80"/>
<rect x="532.20" y="835.20" width="4.00" height="3.40"/>
<line x1="534.20" y1="835.20" x2="534.20" y2="833.40"/>
<rect x="589.40" y="858.80" width="3.20" height="29.00"/>
<path d="M586.40,836 L586.40,856.5 Q586.40,858.8 588.50,858.8 L593.50,858.8 Q595.60,858.8 595.60,856.5 L595.60,836" fill="#fff"/>
<line x1="589.20" y1="836.00" x2="589.20" y2="855.00"/>
<line x1="592.80" y1="836.00" x2="592.80" y2="855.00"/>
<line x1="589.20" y1="845.50" x2="592.80" y2="845.50"/>
<line x1="589.20" y1="847.20" x2="592.80" y2="847.20"/>
<circle cx="591.00" cy="832.30" r="4.40" fill="#fff"/>
<line x1="408.80" y1="877.00" x2="408.80" y2="890.50"/>
<line x1="412.00" y1="877.00" x2="412.00" y2="890.50"/>
<polyline points="412.00,880.50 417.50,889.50"/>
<polyline points="412.00,884.00 415.50,890.00"/>
<line x1="668.80" y1="877.00" x2="668.80" y2="943.80"/>
<line x1="672.50" y1="877.00" x2="672.50" y2="943.80"/>
<polyline points="668.80,884.60 648.80,900.00"/>
<path d="M668.8,890 Q664.5,885.5 662.5,889.5"/>
<line x1="648.80" y1="900.00" x2="648.80" y2="943.80"/>
<line x1="630.00" y1="900.00" x2="648.80" y2="900.00"/>
<polyline points="630.00,943.80 676.30,943.80 676.30,1031.00"/>
<line x1="612.50" y1="1004.00" x2="676.30" y2="1004.00"/>
<line x1="612.50" y1="1031.00" x2="676.30" y2="1031.00"/>
<line x1="612.50" y1="1035.30" x2="676.30" y2="1035.30"/>
<polyline points="471.30,973.60 406.50,973.60 406.50,1031.00 471.30,1031.00"/>
<line x1="406.30" y1="1005.00" x2="471.30" y2="1005.00"/>
<line x1="408.00" y1="1035.30" x2="471.30" y2="1035.30"/>
<line x1="408.00" y1="1031.00" x2="408.00" y2="1053.80"/>
<line x1="408.00" y1="1053.80" x2="422.50" y2="1053.80"/>
<line x1="454.00" y1="1053.80" x2="471.30" y2="1053.80"/>
<line x1="676.00" y1="1035.30" x2="676.00" y2="1040.00"/>
<line x1="468.50" y1="1035.30" x2="468.50" y2="1053.80" stroke-width="0.7"/>
<line x1="660.00" y1="1053.80" x2="673.00" y2="1053.80"/>
<line x1="612.50" y1="1053.80" x2="630.00" y2="1053.80"/>
<path d="M408.8,1036 L408.8,1079.5 L414,1079.5" stroke-dasharray="6 3"/>
<path d="M673,1036 L673,1079.5 L668,1079.5" stroke-dasharray="6 3"/>
<line x1="615.00" y1="1036.00" x2="615.00" y2="1052.00" stroke-dasharray="6 3"/>
<polyline points="471.30,970.00 471.30,1055.00 481.30,1068.80 602.50,1068.80 612.50,1053.80 612.50,970.00"/>
<line x1="471.30" y1="1035.00" x2="612.50" y2="1035.00"/>
<rect x="498.80" y="1070.00" width="87.20" height="17.50" rx="2" fill="#fff"/>
<line x1="515.00" y1="1068.80" x2="515.00" y2="1087.50"/>
<line x1="521.30" y1="1068.80" x2="521.30" y2="1087.50"/>
<line x1="527.50" y1="1068.80" x2="527.50" y2="1087.50"/>
<line x1="535.00" y1="1068.80" x2="535.00" y2="1087.50"/>
<line x1="548.80" y1="1068.80" x2="548.80" y2="1087.50"/>
<line x1="500.00" y1="1072.50" x2="515.00" y2="1072.50"/>
<rect x="565.00" y="1068.80" width="11.00" height="22.20" rx="1" fill="#fff"/>
<rect x="567.30" y="1072.00" width="2.30" height="2.40" rx="0.5" stroke-width="0.7"/>
<rect x="567.30" y="1076.20" width="2.30" height="2.40" rx="0.5" stroke-width="0.7"/>
<rect x="567.30" y="1080.40" width="2.30" height="2.40" rx="0.5" stroke-width="0.7"/>
<rect x="567.30" y="1084.60" width="2.30" height="2.40" rx="0.5" stroke-width="0.7"/>
<line x1="571.00" y1="1070.00" x2="571.00" y2="1090.00"/>
<polyline points="498.80,1076.00 462.00,1076.00"/>
<polyline points="498.80,1087.00 464.00,1085.00 460.00,1081.00"/>
<polyline points="586.00,1076.00 622.50,1076.00"/>
<polyline points="586.00,1087.00 620.00,1085.00 624.00,1081.00"/>
<rect x="463.00" y="1065.50" width="13.50" height="8.00" rx="1.5" fill="#666"/>
<rect x="461.40" y="1064.20" width="2.80" height="10.80" rx="1" fill="#fff"/>
<rect x="475.30" y="1064.20" width="2.80" height="10.80" rx="1" fill="#fff"/>
<line x1="468.75" y1="1073.50" x2="468.75" y2="1078.50"/>
<line x1="471.35" y1="1073.50" x2="471.35" y2="1077.00"/>
<rect x="607.50" y="1065.50" width="13.50" height="8.00" rx="1.5" fill="#666"/>
<rect x="605.90" y="1064.20" width="2.80" height="10.80" rx="1" fill="#fff"/>
<rect x="619.80" y="1064.20" width="2.80" height="10.80" rx="1" fill="#fff"/>
<line x1="613.25" y1="1073.50" x2="613.25" y2="1078.50"/>
<line x1="615.85" y1="1073.50" x2="615.85" y2="1077.00"/>
<path d="M479.60,1049 L479.60,1058 Q479.60,1060 481.60,1060 L489.20,1060 Q491.20,1060 491.20,1058 L491.20,1049 Q491.20,1046.5 488.40,1046.5 L482.40,1046.5 Q479.60,1046.5 479.60,1049 Z" fill="#fff"/>
<path d="M483.20,1046.5 L482.60,1042.5 Q485.40,1040.5 488.20,1042.5 L487.60,1046.5"/>
<rect x="483.70" y="1052.00" width="3.40" height="13.30" rx="1.6" fill="#fff"/>
<circle cx="485.40" cy="1050.50" r="2.20" fill="#fff"/>
<path d="M592.40,1049 L592.40,1058 Q592.40,1060 594.40,1060 L602.00,1060 Q604.00,1060 604.00,1058 L604.00,1049 Q604.00,1046.5 601.20,1046.5 L595.20,1046.5 Q592.40,1046.5 592.40,1049 Z" fill="#fff"/>
<path d="M596.00,1046.5 L595.40,1042.5 Q598.20,1040.5 601.00,1042.5 L600.40,1046.5"/>
<rect x="596.50" y="1052.00" width="3.40" height="13.30" rx="1.6" fill="#fff"/>
<circle cx="598.20" cy="1050.50" r="2.20" fill="#fff"/>
<rect x="533.00" y="1039.50" width="17.50" height="14.50" rx="3" fill="#fff"/>
<circle cx="535.20" cy="1041.60" r="0.90"/>
<circle cx="548.30" cy="1041.60" r="0.90"/>
<circle cx="535.20" cy="1052.00" r="0.90"/>
<circle cx="548.30" cy="1052.00" r="0.90"/>
<path d="M537,1061 L537,1046 Q537,1042.5 541.7,1042.5 Q546.5,1042.5 546.5,1046 L546.5,1061 Z" fill="#fff"/>
<rect x="538.60" y="1052.00" width="6.40" height="9.50" rx="1" fill="#fff"/>
<path d="M422.5,1070 Q416,1071 416,1078.8 Q416,1086.5 422.5,1087.5"/>
<path d="M660,1070 Q666.4,1071 666.4,1078.8 Q666.4,1086.5 660,1087.5"/>
<g transform="translate(422.50 1035.00) skewX(2.48)">
<path d="M0,0 L31.00,0 L31.00,99.30 Q31.00,103.80 26.50,103.80 L4.5,103.80 Q0,103.80 0,99.30 Z" fill="#fff"/>
<line x1="1.60" y1="0.00" x2="1.60" y2="99.80" stroke-width="0.7"/>
<line x1="29.40" y1="4.00" x2="29.40" y2="99.80" stroke-width="0.7"/>
<path d="M2.00,8.21 L11.83,8.21 A2.12,2.12 0 0 1 11.83,12.46 L2.00,12.46"/>
<path d="M2.00,18.50 L11.70,18.50 A2.25,2.25 0 0 1 11.70,22.99 L2.00,22.99"/>
<path d="M2.00,29.72 L11.63,29.72 A2.32,2.32 0 0 1 11.63,34.37 L2.00,34.37"/>
<path d="M2.00,41.45 L11.60,41.45 A2.35,2.35 0 0 1 11.60,46.15 L2.00,46.15"/>
<path d="M2.00,53.23 L11.63,53.23 A2.32,2.32 0 0 1 11.63,57.88 L2.00,57.88"/>
<path d="M2.00,64.61 L11.70,64.61 A2.25,2.25 0 0 1 11.70,69.10 L2.00,69.10"/>
<path d="M2.00,75.14 L11.83,75.14 A2.12,2.12 0 0 1 11.83,79.39 L2.00,79.39"/>
<path d="M2.00,84.42 L12.00,84.42 A1.95,1.95 0 0 1 12.00,88.33 L2.00,88.33"/>
<path d="M2.00,92.09 L12.20,92.09 A1.75,1.75 0 0 1 12.20,95.58 L2.00,95.58"/>
<path d="M2.00,97.84 L12.44,97.84 A1.51,1.51 0 0 1 12.44,100.86 L2.00,100.86"/>
<path d="M29.00,3.55 L18.47,3.55 A2.04,2.04 0 0 0 18.47,7.64 L29.00,7.64"/>
<path d="M29.00,13.21 L18.62,13.21 A2.19,2.19 0 0 0 18.62,17.59 L29.00,17.59"/>
<path d="M29.00,24.02 L18.72,24.02 A2.29,2.29 0 0 0 18.72,28.60 L29.00,28.60"/>
<path d="M29.00,35.55 L18.77,35.55 A2.34,2.34 0 0 0 18.77,40.24 L29.00,40.24"/>
<path d="M29.00,47.36 L18.77,47.36 A2.34,2.34 0 0 0 18.77,52.05 L29.00,52.05"/>
<path d="M29.00,59.00 L18.72,59.00 A2.29,2.29 0 0 0 18.72,63.58 L29.00,63.58"/>
<path d="M29.00,70.01 L18.62,70.01 A2.19,2.19 0 0 0 18.62,74.39 L29.00,74.39"/>
<path d="M29.00,79.96 L18.47,79.96 A2.04,2.04 0 0 0 18.47,84.05 L29.00,84.05"/>
<path d="M29.00,88.48 L18.28,88.48 A1.85,1.85 0 0 0 18.28,92.18 L29.00,92.18"/>
<path d="M29.00,95.22 L18.06,95.22 A1.63,1.63 0 0 0 18.06,98.48 L29.00,98.48"/>
</g>
<g transform="translate(630.00 1035.00) skewX(-2.48)">
<path d="M0,0 L31.00,0 L31.00,99.30 Q31.00,103.80 26.50,103.80 L4.5,103.80 Q0,103.80 0,99.30 Z" fill="#fff"/>
<line x1="1.60" y1="0.00" x2="1.60" y2="99.80" stroke-width="0.7"/>
<line x1="29.40" y1="4.00" x2="29.40" y2="99.80" stroke-width="0.7"/>
<path d="M2.00,8.21 L11.83,8.21 A2.12,2.12 0 0 1 11.83,12.46 L2.00,12.46"/>
<path d="M2.00,18.50 L11.70,18.50 A2.25,2.25 0 0 1 11.70,22.99 L2.00,22.99"/>
<path d="M2.00,29.72 L11.63,29.72 A2.32,2.32 0 0 1 11.63,34.37 L2.00,34.37"/>
<path d="M2.00,41.45 L11.60,41.45 A2.35,2.35 0 0 1 11.60,46.15 L2.00,46.15"/>
<path d="M2.00,53.23 L11.63,53.23 A2.32,2.32 0 0 1 11.63,57.88 L2.00,57.88"/>
<path d="M2.00,64.61 L11.70,64.61 A2.25,2.25 0 0 1 11.70,69.10 L2.00,69.10"/>
<path d="M2.00,75.14 L11.83,75.14 A2.12,2.12 0 0 1 11.83,79.39 L2.00,79.39"/>
<path d="M2.00,84.42 L12.00,84.42 A1.95,1.95 0 0 1 12.00,88.33 L2.00,88.33"/>
<path d="M2.00,92.09 L12.20,92.09 A1.75,1.75 0 0 1 12.20,95.58 L2.00,95.58"/>
<path d="M2.00,97.84 L12.44,97.84 A1.51,1.51 0 0 1 12.44,100.86 L2.00,100.86"/>
<path d="M29.00,3.55 L18.47,3.55 A2.04,2.04 0 0 0 18.47,7.64 L29.00,7.64"/>
<path d="M29.00,13.21 L18.62,13.21 A2.19,2.19 0 0 0 18.62,17.59 L29.00,17.59"/>
<path d="M29.00,24.02 L18.72,24.02 A2.29,2.29 0 0 0 18.72,28.60 L29.00,28.60"/>
<path d="M29.00,35.55 L18.77,35.55 A2.34,2.34 0 0 0 18.77,40.24 L29.00,40.24"/>
<path d="M29.00,47.36 L18.77,47.36 A2.34,2.34 0 0 0 18.77,52.05 L29.00,52.05"/>
<path d="M29.00,59.00 L18.72,59.00 A2.29,2.29 0 0 0 18.72,63.58 L29.00,63.58"/>
<path d="M29.00,70.01 L18.62,70.01 A2.19,2.19 0 0 0 18.62,74.39 L29.00,74.39"/>
<path d="M29.00,79.96 L18.47,79.96 A2.04,2.04 0 0 0 18.47,84.05 L29.00,84.05"/>
<path d="M29.00,88.48 L18.28,88.48 A1.85,1.85 0 0 0 18.28,92.18 L29.00,92.18"/>
<path d="M29.00,95.22 L18.06,95.22 A1.63,1.63 0 0 0 18.06,98.48 L29.00,98.48"/>
</g>
<line x1="424.00" y1="1078.80" x2="430.00" y2="1078.80"/>
<line x1="653.00" y1="1078.80" x2="659.00" y2="1078.80"/>
<rect x="405.50" y="890.50" width="25.80" height="79.50" rx="3" fill="#fff"/>
<circle cx="408.80" cy="895.00" r="1.20" fill="#777"/>
<circle cx="408.80" cy="906.30" r="1.20" fill="#777"/>
<circle cx="408.80" cy="918.80" r="1.20" fill="#777"/>
<circle cx="408.80" cy="930.50" r="1.20" fill="#777"/>
<circle cx="408.80" cy="942.00" r="1.20" fill="#777"/>
<circle cx="408.80" cy="953.80" r="1.20" fill="#777"/>
<circle cx="408.80" cy="966.30" r="1.20" fill="#777"/>
<rect x="412.50" y="902.90" width="18.80" height="1.80" rx="0.9"/>
<rect x="412.50" y="945.40" width="18.80" height="1.80" rx="0.9"/>
<rect x="603.30" y="890.50" width="26.70" height="79.50" rx="3" fill="#fff"/>
<circle cx="627.00" cy="895.00" r="1.20" fill="#777"/>
<circle cx="627.00" cy="906.30" r="1.20" fill="#777"/>
<circle cx="627.00" cy="918.80" r="1.20" fill="#777"/>
<circle cx="627.00" cy="930.50" r="1.20" fill="#777"/>
<circle cx="627.00" cy="942.00" r="1.20" fill="#777"/>
<circle cx="627.00" cy="953.80" r="1.20" fill="#777"/>
<circle cx="627.00" cy="966.30" r="1.20" fill="#777"/>
<rect x="603.30" y="902.90" width="19.20" height="1.80" rx="0.9"/>
<rect x="603.30" y="945.40" width="19.20" height="1.80" rx="0.9"/>
<path d="M431.9,970 L431.9,893 Q432.5,886 439.8,882.3 C450,876.5 461,872.4 472,872.4 C485,872.4 497,878.5 504.2,882.3 C512,886.5 526,886.5 533.9,882.3 C541,878.5 555,872.4 568.5,872.4 C580,872.4 591,877 598.2,882.3 Q603.6,886 603.6,893 L603.6,970 Z" fill="#fff"/>
<line x1="431.90" y1="905.80" x2="603.60" y2="905.80"/>
<rect x="405.00" y="873.50" width="271.30" height="3.50" rx="0.8"/>
<line x1="405.50" y1="970.00" x2="630.00" y2="970.00"/>
<path d="M431.9,959 L463,959 Q466,959 466,962.5 L466,965.3 Q468.7,963.3 471,965.3 L471,970"/>
<path d="M471,965.1 L538.8,965.1 L538.8,962 Q538.8,960.2 541,960.2 L603.6,960.2"/>
<path d="M466,970 Q466,965.3 468.6,965.3 Q471.2,965.3 471.2,970"/>
<rect x="431.90" y="912.00" width="3.50" height="8.60"/>
<rect x="600.10" y="912.00" width="3.50" height="8.60"/>
<rect x="600.10" y="957.70" width="3.50" height="6.30"/>
<rect x="431.90" y="956.50" width="2.10" height="2.50"/>
<polyline points="498.30,929.00 498.30,942.90"/>
<polyline points="501.00,930.00 501.00,938.00"/>
<circle cx="513.60" cy="942.90" r="15.30" fill="#fff"/>
<circle cx="513.60" cy="942.90" r="12.40" fill="#fff"/>
<circle cx="513.60" cy="942.90" r="7.40" fill="#fff"/>
<circle cx="513.60" cy="942.90" r="4.20" fill="#fff"/>
<circle cx="519.80" cy="923.80" r="6.40" fill="#fff"/>
<circle cx="519.80" cy="926.30" r="1.60"/>
<circle cx="505.90" cy="921.10" r="8.90" fill="#fff"/>
<circle cx="505.90" cy="921.10" r="1.40"/>
<circle cx="510.40" cy="923.70" r="1.40"/>
<circle cx="505.90" cy="926.30" r="1.40"/>
<circle cx="501.40" cy="923.70" r="1.40"/>
<circle cx="501.40" cy="918.50" r="1.40"/>
<circle cx="505.90" cy="915.90" r="1.40"/>
<circle cx="510.40" cy="918.50" r="1.40"/>
<rect x="465.80" y="918.90" width="17.30" height="10.40"/>
<line x1="465.80" y1="921.90" x2="483.10" y2="921.90"/>
<rect x="475.70" y="921.90" width="7.40" height="5.50"/>
<rect x="548.00" y="897.10" width="9.40" height="21.00" rx="4.7" fill="#fff"/>
<circle cx="552.60" cy="908.70" r="2.50"/>
<rect x="559.80" y="920.60" width="7.50" height="11.60" rx="0.8"/>
<circle cx="491.30" cy="911.20" r="1.10" fill="#777"/>
<circle cx="535.10" cy="911.20" r="1.10" fill="#777"/>
<circle cx="491.30" cy="949.60" r="1.10" fill="#777"/>
<circle cx="535.60" cy="949.60" r="1.10" fill="#777"/>
<circle cx="491.30" cy="959.70" r="1.10" fill="#777"/>
<circle cx="535.60" cy="959.70" r="1.10" fill="#777"/>
</g>
</svg>
</body></html>
